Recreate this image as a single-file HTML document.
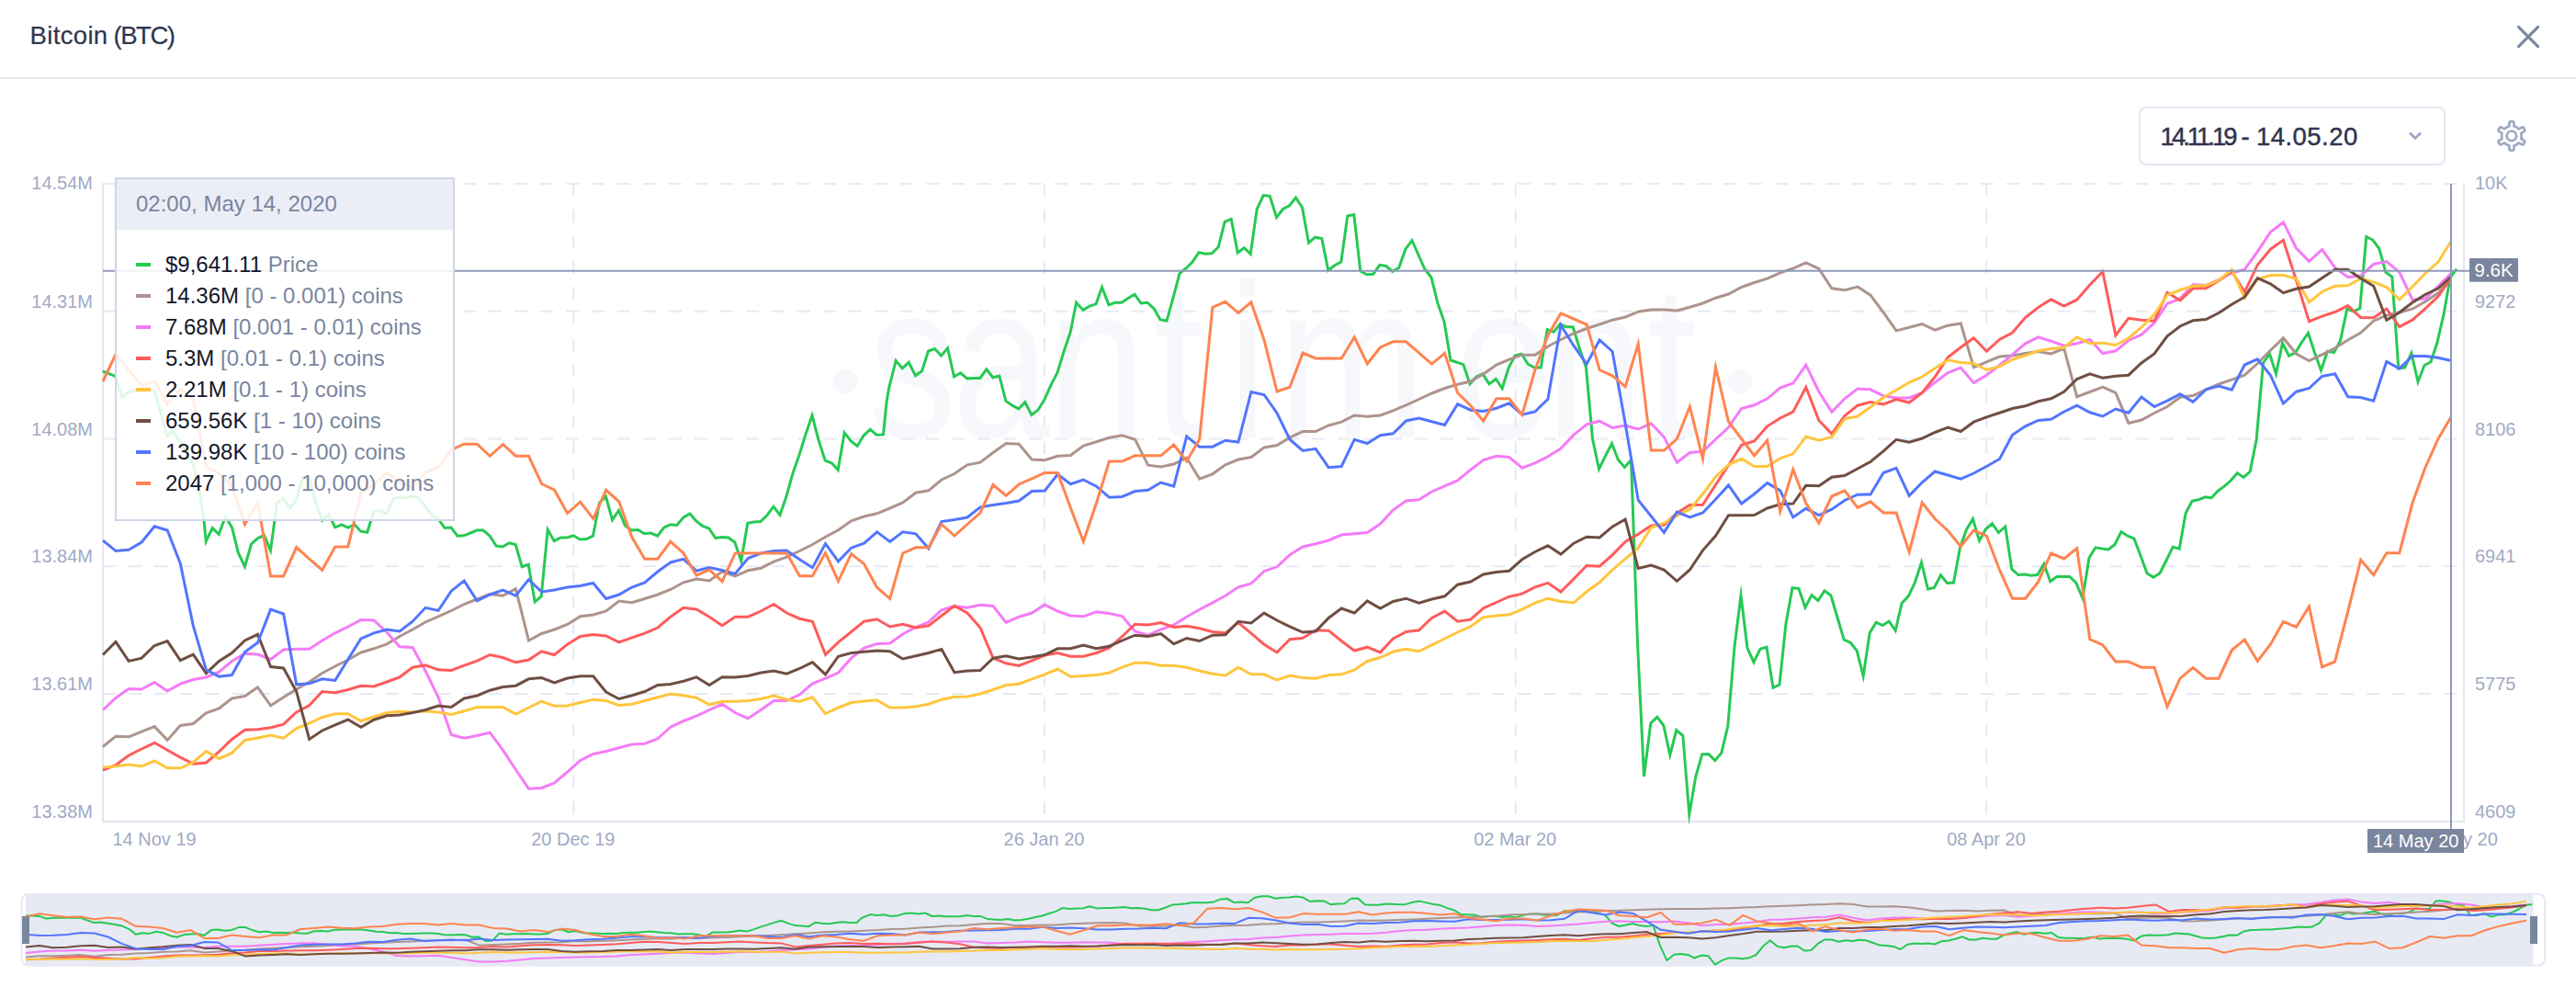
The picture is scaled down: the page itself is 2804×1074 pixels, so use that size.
<!DOCTYPE html>
<html><head><meta charset="utf-8"><title>Bitcoin (BTC)</title>
<style>
html,body{margin:0;padding:0;background:#fff;}
body{width:2804px;height:1074px;position:relative;overflow:hidden;font-family:"Liberation Sans",sans-serif;}
.title{position:absolute;left:32.6px;top:21.6px;font-size:27.6px;line-height:34px;color:#2f354d;letter-spacing:0.3px;white-space:pre;-webkit-text-stroke:0.2px #2f354d;}
.title u{text-decoration:none;letter-spacing:-1.5px;margin-left:-2px;}
.hr{position:absolute;left:0;top:84px;width:2804px;height:2px;background:#e7eaf3;}
.date{position:absolute;left:2328px;top:116px;width:330px;height:60px;border:2px solid #e4e7f2;border-radius:8px;background:#fff;}
.date span{position:absolute;left:21.6px;top:14px;font-size:27.5px;line-height:34px;color:#2f354d;letter-spacing:0.45px;word-spacing:-1.2px;white-space:pre;-webkit-text-stroke:0.45px #2f354d;}
.date span u{text-decoration:none;letter-spacing:-3.0px;}
svg{position:absolute;left:0;top:0;}
.tip{position:absolute;left:125px;top:193px;width:366px;height:370px;border:2px solid #d0d4e8;background:rgba(255,255,255,0.86);}
.tip .hd{position:absolute;left:0;top:0;width:366px;height:55px;background:#ebeef6;color:#7a859e;font-size:24px;line-height:53px;text-indent:21px;white-space:nowrap;}
.tip .row{position:absolute;left:21px;height:34px;line-height:34px;font-size:24px;white-space:nowrap;color:#7a859e;}
.tip .row i{display:inline-block;width:16px;height:4px;vertical-align:middle;margin-right:16px;position:relative;top:-2px;}
.tip .row b{font-weight:normal;color:#14172b;}
</style></head><body>
<div class="title">Bitcoin <u>(BTC)</u></div>
<div class="hr"></div>
<div class="date"><span><u>14.11.19</u> - 14.05.20</span></div>
<svg width="2804" height="1074" viewBox="0 0 2804 1074" font-family="Liberation Sans, sans-serif">
<!-- close -->
<path d="M2741.5 29.4 L2762.6 50.6 M2762.6 29.4 L2741.5 50.6" stroke="#7a859e" stroke-width="3" stroke-linecap="round" fill="none"/>
<!-- chevron -->
<path d="M2623.8 145.3 L2629 150.5 L2634.2 145.3" stroke="#9faac4" stroke-width="3" stroke-linecap="round" stroke-linejoin="round" fill="none"/>
<!-- gear -->
<g transform="translate(2733.9 147.9)" fill="none" stroke="#9faac4" stroke-width="2.8" stroke-linejoin="round">
<circle r="5.2"/>
<path id="gear" d="M0.00 -15.70 L0.27 -15.70 L0.55 -15.69 L0.82 -15.68 L1.10 -15.66 L1.37 -15.64 L1.64 -15.61 L1.91 -15.58 L2.16 -15.34 L2.34 -14.75 L2.46 -13.93 L2.53 -13.01 L2.57 -12.08 L2.60 -11.27 L2.66 -10.68 L2.80 -10.43 L2.98 -10.38 L3.16 -10.33 L3.34 -10.27 L3.52 -10.21 L3.69 -10.15 L3.87 -10.08 L4.05 -10.01 L4.22 -9.94 L4.39 -9.87 L4.56 -9.79 L4.73 -9.71 L4.90 -9.62 L5.07 -9.54 L5.24 -9.45 L5.40 -9.35 L5.56 -9.26 L5.72 -9.16 L5.88 -9.06 L6.04 -8.95 L6.19 -8.85 L6.35 -8.74 L6.50 -8.63 L6.65 -8.51 L6.80 -8.39 L6.94 -8.27 L7.09 -8.15 L7.23 -8.03 L7.37 -7.90 L7.50 -7.77 L7.64 -7.64 L7.92 -7.65 L8.46 -7.89 L9.18 -8.26 L10.00 -8.69 L10.84 -9.10 L11.61 -9.40 L12.21 -9.54 L12.54 -9.45 L12.70 -9.23 L12.86 -9.01 L13.02 -8.78 L13.17 -8.55 L13.31 -8.32 L13.46 -8.09 L13.60 -7.85 L13.73 -7.61 L13.86 -7.37 L13.99 -7.13 L14.11 -6.88 L14.23 -6.64 L14.34 -6.39 L14.45 -6.13 L14.36 -5.80 L13.94 -5.35 L13.30 -4.84 L12.53 -4.31 L11.75 -3.82 L11.06 -3.38 L10.58 -3.03 L10.43 -2.80 L10.48 -2.61 L10.52 -2.43 L10.56 -2.25 L10.60 -2.06 L10.64 -1.88 L10.67 -1.69 L10.69 -1.50 L10.72 -1.32 L10.74 -1.13 L10.76 -0.94 L10.77 -0.75 L10.79 -0.57 L10.79 -0.38 L10.80 -0.19 L10.80 -0.00 L10.80 0.19 L10.79 0.38 L10.79 0.57 L10.77 0.75 L10.76 0.94 L10.74 1.13 L10.72 1.32 L10.69 1.50 L10.67 1.69 L10.64 1.88 L10.60 2.06 L10.56 2.25 L10.52 2.43 L10.48 2.61 L10.43 2.80 L10.58 3.03 L11.06 3.38 L11.75 3.82 L12.53 4.31 L13.30 4.84 L13.94 5.35 L14.36 5.80 L14.45 6.13 L14.34 6.39 L14.23 6.64 L14.11 6.88 L13.99 7.13 L13.86 7.37 L13.73 7.61 L13.60 7.85 L13.46 8.09 L13.31 8.32 L13.17 8.55 L13.02 8.78 L12.86 9.01 L12.70 9.23 L12.54 9.45 L12.21 9.54 L11.61 9.40 L10.84 9.10 L10.00 8.69 L9.18 8.26 L8.46 7.89 L7.92 7.65 L7.64 7.64 L7.50 7.77 L7.37 7.90 L7.23 8.03 L7.09 8.15 L6.94 8.27 L6.80 8.39 L6.65 8.51 L6.50 8.63 L6.35 8.74 L6.19 8.85 L6.04 8.95 L5.88 9.06 L5.72 9.16 L5.56 9.26 L5.40 9.35 L5.24 9.45 L5.07 9.54 L4.90 9.62 L4.73 9.71 L4.56 9.79 L4.39 9.87 L4.22 9.94 L4.05 10.01 L3.87 10.08 L3.69 10.15 L3.52 10.21 L3.34 10.27 L3.16 10.33 L2.98 10.38 L2.80 10.43 L2.66 10.68 L2.60 11.27 L2.57 12.08 L2.53 13.01 L2.46 13.93 L2.34 14.75 L2.16 15.34 L1.91 15.58 L1.64 15.61 L1.37 15.64 L1.10 15.66 L0.82 15.68 L0.55 15.69 L0.27 15.70 L0.00 15.70 L-0.27 15.70 L-0.55 15.69 L-0.82 15.68 L-1.10 15.66 L-1.37 15.64 L-1.64 15.61 L-1.91 15.58 L-2.16 15.34 L-2.34 14.75 L-2.46 13.93 L-2.53 13.01 L-2.57 12.08 L-2.60 11.27 L-2.66 10.68 L-2.80 10.43 L-2.98 10.38 L-3.16 10.33 L-3.34 10.27 L-3.52 10.21 L-3.69 10.15 L-3.87 10.08 L-4.05 10.01 L-4.22 9.94 L-4.39 9.87 L-4.56 9.79 L-4.73 9.71 L-4.90 9.62 L-5.07 9.54 L-5.24 9.45 L-5.40 9.35 L-5.56 9.26 L-5.72 9.16 L-5.88 9.06 L-6.04 8.95 L-6.19 8.85 L-6.35 8.74 L-6.50 8.63 L-6.65 8.51 L-6.80 8.39 L-6.94 8.27 L-7.09 8.15 L-7.23 8.03 L-7.37 7.90 L-7.50 7.77 L-7.64 7.64 L-7.92 7.65 L-8.46 7.89 L-9.18 8.26 L-10.00 8.69 L-10.84 9.10 L-11.61 9.40 L-12.21 9.54 L-12.54 9.45 L-12.70 9.23 L-12.86 9.01 L-13.02 8.78 L-13.17 8.55 L-13.31 8.32 L-13.46 8.09 L-13.60 7.85 L-13.73 7.61 L-13.86 7.37 L-13.99 7.13 L-14.11 6.88 L-14.23 6.64 L-14.34 6.39 L-14.45 6.13 L-14.36 5.80 L-13.94 5.35 L-13.30 4.84 L-12.53 4.31 L-11.75 3.82 L-11.06 3.38 L-10.58 3.03 L-10.43 2.80 L-10.48 2.61 L-10.52 2.43 L-10.56 2.25 L-10.60 2.06 L-10.64 1.88 L-10.67 1.69 L-10.69 1.50 L-10.72 1.32 L-10.74 1.13 L-10.76 0.94 L-10.77 0.75 L-10.79 0.57 L-10.79 0.38 L-10.80 0.19 L-10.80 0.00 L-10.80 -0.19 L-10.79 -0.38 L-10.79 -0.57 L-10.77 -0.75 L-10.76 -0.94 L-10.74 -1.13 L-10.72 -1.32 L-10.69 -1.50 L-10.67 -1.69 L-10.64 -1.88 L-10.60 -2.06 L-10.56 -2.25 L-10.52 -2.43 L-10.48 -2.61 L-10.43 -2.80 L-10.58 -3.03 L-11.06 -3.38 L-11.75 -3.82 L-12.53 -4.31 L-13.30 -4.84 L-13.94 -5.35 L-14.36 -5.80 L-14.45 -6.13 L-14.34 -6.39 L-14.23 -6.64 L-14.11 -6.88 L-13.99 -7.13 L-13.86 -7.37 L-13.73 -7.61 L-13.60 -7.85 L-13.46 -8.09 L-13.31 -8.32 L-13.17 -8.55 L-13.02 -8.78 L-12.86 -9.01 L-12.70 -9.23 L-12.54 -9.45 L-12.21 -9.54 L-11.61 -9.40 L-10.84 -9.10 L-10.00 -8.69 L-9.18 -8.26 L-8.46 -7.89 L-7.92 -7.65 L-7.64 -7.64 L-7.50 -7.77 L-7.37 -7.90 L-7.23 -8.03 L-7.09 -8.15 L-6.94 -8.27 L-6.80 -8.39 L-6.65 -8.51 L-6.50 -8.63 L-6.35 -8.74 L-6.19 -8.85 L-6.04 -8.95 L-5.88 -9.06 L-5.72 -9.16 L-5.56 -9.26 L-5.40 -9.35 L-5.24 -9.45 L-5.07 -9.54 L-4.90 -9.62 L-4.73 -9.71 L-4.56 -9.79 L-4.39 -9.87 L-4.22 -9.94 L-4.05 -10.01 L-3.87 -10.08 L-3.69 -10.15 L-3.52 -10.21 L-3.34 -10.27 L-3.16 -10.33 L-2.98 -10.38 L-2.80 -10.43 L-2.66 -10.68 L-2.60 -11.27 L-2.57 -12.08 L-2.53 -13.01 L-2.46 -13.93 L-2.34 -14.75 L-2.16 -15.34 L-1.91 -15.58 L-1.64 -15.61 L-1.37 -15.64 L-1.10 -15.66 L-0.82 -15.68 L-0.55 -15.69 L-0.27 -15.70 Z"/>
</g>
<!-- watermark -->
<g fill="#f7f8fb">
<circle cx="920" cy="415" r="13.5"/><circle cx="1894" cy="415" r="13.5"/>
<g transform="scale(0.8 1)"><text x="1181.9 1295.6 1425.6 1570.0 1670.6 1740.0 1978.8 2103.8 2241.2" y="476" font-size="239">santiment</text></g>
</g>
<!-- axes -->
<path d="M112 199 V893.9 H2682 V199" stroke="#e3e6f0" stroke-width="2" fill="none"/>
<g stroke="#e7eaf3" stroke-width="2" stroke-dasharray="14 14"><line x1="112" y1="200.00" x2="2682" y2="200.00"/><line x1="112" y1="338.80" x2="2682" y2="338.80"/><line x1="112" y1="477.60" x2="2682" y2="477.60"/><line x1="112" y1="616.30" x2="2682" y2="616.30"/><line x1="112" y1="755.10" x2="2682" y2="755.10"/><line x1="624.20" y1="200" x2="624.20" y2="893"/><line x1="1136.90" y1="200" x2="1136.90" y2="893"/><line x1="1649.70" y1="200" x2="1649.70" y2="893"/><line x1="2162.40" y1="200" x2="2162.40" y2="893"/></g>
<g font-size="20" fill="#9faac4"><text x="101" y="205.7" text-anchor="end">14.54M</text><text x="2694" y="205.7">10K</text><text x="101" y="334.9" text-anchor="end">14.31M</text><text x="2694" y="334.9">9272</text><text x="101" y="473.7" text-anchor="end">14.08M</text><text x="2694" y="473.7">8106</text><text x="101" y="612.4" text-anchor="end">13.84M</text><text x="2694" y="612.4">6941</text><text x="101" y="751.2" text-anchor="end">13.61M</text><text x="2694" y="751.2">5775</text><text x="101" y="889.9" text-anchor="end">13.38M</text><text x="2694" y="889.9">4609</text><text x="122.5" y="920" text-anchor="start">14 Nov 19</text><text x="623.8" y="920" text-anchor="middle">20 Dec 19</text><text x="1136.5" y="920" text-anchor="middle">26 Jan 20</text><text x="1649.2" y="920" text-anchor="middle">02 Mar 20</text><text x="2162.0" y="920" text-anchor="middle">08 Apr 20</text><text x="2718.8" y="920" text-anchor="end">14 May 20</text></g>
<!-- series -->
<g fill="none" stroke-width="3" stroke-linejoin="miter" stroke-miterlimit="10"><path d="M111.9 404.0 L125.5 409.4 L133.0 432.2 L140.4 426.4 L147.9 424.9 L161.7 423.6 L168.1 425.3 L181.9 474.6 L188.3 469.3 L195.7 480.6 L203.2 492.3 L210.6 506.2 L218.1 540.2 L222.3 568.9 L224.2 589.1 L231.2 574.6 L238.2 581.3 L245.5 562.0 L252.5 574.0 L259.5 602.0 L266.5 616.5 L273.5 592.0 L280.5 585.8 L287.5 582.3 L294.5 599.1 L301.5 547.0 L308.5 542.3 L315.5 552.7 L322.5 544.5 L329.5 519.6 L336.5 519.6 L343.8 547.0 L350.8 566.3 L357.8 560.0 L364.8 573.8 L371.8 570.8 L378.8 574.0 L385.8 570.8 L392.8 578.2 L399.8 579.3 L406.8 556.5 L413.8 555.8 L420.8 559.2 L427.8 543.2 L435.0 540.8 L442.0 542.0 L449.0 539.5 L456.0 542.0 L463.0 550.8 L470.0 560.8 L477.0 564.5 L484.0 574.5 L491.0 574.0 L498.0 583.2 L505.0 582.8 L512.0 580.0 L519.0 577.0 L526.0 577.0 L533.2 583.2 L540.2 594.0 L547.2 595.0 L554.2 590.8 L561.2 592.5 L568.2 616.7 L575.2 614.3 L582.2 654.9 L589.2 649.0 L596.2 576.4 L603.2 588.7 L610.2 585.0 L617.2 585.0 L624.2 582.8 L631.5 587.0 L638.5 586.5 L645.5 583.2 L652.5 547.0 L659.5 540.3 L666.5 565.7 L673.5 555.5 L680.5 572.0 L687.5 577.0 L694.5 576.5 L701.5 580.8 L708.5 580.0 L715.8 583.1 L722.8 574.0 L729.8 570.8 L736.8 571.5 L743.8 563.2 L750.8 558.9 L757.8 566.8 L764.8 572.5 L771.8 575.0 L778.8 585.5 L785.8 584.5 L792.8 585.0 L799.8 590.0 L806.8 610.5 L813.8 569.3 L820.8 568.0 L827.8 567.5 L834.8 560.8 L842.0 551.3 L849.0 560.3 L856.0 540.0 L863.0 515.0 L870.0 495.0 L877.0 472.5 L884.0 452.0 L891.0 478.8 L898.2 501.2 L905.2 503.8 L912.2 511.4 L919.2 470.9 L926.2 480.0 L933.2 485.4 L940.2 473.8 L947.2 467.2 L954.2 473.2 L961.5 472.9 L965.2 436.2 L967.8 421.2 L975.2 392.4 L982.2 400.9 L989.2 394.3 L996.5 408.8 L1003.5 403.8 L1010.5 382.0 L1017.5 379.6 L1024.5 387.1 L1031.5 378.7 L1038.5 410.0 L1045.5 405.8 L1052.8 412.0 L1059.8 411.5 L1066.8 411.5 L1073.8 401.8 L1080.8 410.7 L1087.8 409.0 L1094.8 436.2 L1101.8 441.2 L1108.8 444.9 L1115.8 437.6 L1122.8 451.4 L1129.8 446.2 L1136.8 435.0 L1144.0 418.8 L1151.0 405.5 L1158.0 382.5 L1165.2 361.2 L1171.5 329.3 L1179.0 337.4 L1186.0 333.2 L1193.0 330.8 L1199.5 312.6 L1207.0 331.8 L1214.0 329.2 L1221.0 329.2 L1228.0 324.5 L1235.0 320.2 L1242.0 330.0 L1249.0 329.2 L1256.0 335.8 L1263.0 348.0 L1270.0 349.1 L1277.0 323.8 L1284.0 297.5 L1291.0 292.0 L1298.0 285.0 L1305.0 274.6 L1312.0 276.2 L1319.0 275.8 L1326.2 268.8 L1333.2 241.3 L1340.2 238.4 L1347.2 275.0 L1354.2 269.7 L1361.2 276.4 L1368.2 227.5 L1375.2 212.6 L1382.2 213.3 L1389.5 236.5 L1396.5 227.5 L1403.5 223.8 L1410.5 215.1 L1417.5 225.8 L1424.5 264.2 L1431.5 258.2 L1438.8 259.6 L1445.8 294.3 L1452.8 288.8 L1459.8 285.0 L1466.8 235.1 L1473.8 233.5 L1480.8 295.0 L1487.8 298.8 L1494.8 298.2 L1501.8 288.3 L1508.8 289.5 L1515.8 295.4 L1522.8 291.2 L1529.8 271.2 L1537.0 261.6 L1544.0 277.5 L1551.0 293.0 L1558.0 302.0 L1565.0 330.0 L1572.0 350.0 L1579.0 392.0 L1586.0 394.2 L1593.0 396.8 L1600.0 417.9 L1607.0 410.0 L1614.0 406.9 L1621.0 417.9 L1628.2 412.3 L1635.2 422.5 L1642.2 400.0 L1649.2 386.8 L1656.2 385.1 L1663.2 396.2 L1670.2 400.0 L1677.2 399.9 L1684.2 358.6 L1691.2 361.2 L1698.2 352.6 L1705.2 355.8 L1712.2 355.8 L1719.2 378.8 L1726.5 400.0 L1733.5 477.5 L1740.5 510.4 L1747.5 496.2 L1754.5 482.6 L1761.5 500.5 L1768.5 508.4 L1775.5 500.4 L1782.5 700.0 L1789.5 845.0 L1796.8 787.0 L1803.8 780.3 L1810.8 789.2 L1817.8 821.5 L1824.8 794.5 L1831.8 800.5 L1838.8 886.0 L1845.8 845.0 L1852.8 820.8 L1859.8 820.5 L1866.8 827.6 L1873.8 819.2 L1880.8 790.0 L1888.0 703.8 L1895.0 647.9 L1902.0 705.0 L1909.0 720.7 L1916.0 706.2 L1923.0 704.1 L1930.0 748.3 L1937.0 745.0 L1944.0 678.8 L1951.0 639.7 L1958.0 640.5 L1965.0 661.0 L1972.0 647.5 L1979.0 653.4 L1986.0 642.8 L1993.0 648.0 L2000.2 672.5 L2007.2 696.2 L2014.2 699.2 L2021.2 708.0 L2028.2 735.6 L2035.2 688.8 L2042.2 677.2 L2049.2 680.5 L2056.2 676.0 L2063.2 686.1 L2070.2 656.2 L2077.2 648.8 L2084.2 634.5 L2091.5 612.0 L2098.5 641.0 L2105.5 639.5 L2112.5 625.7 L2119.5 634.5 L2126.5 634.1 L2133.5 596.2 L2140.5 576.2 L2147.5 564.7 L2154.5 588.4 L2161.5 575.8 L2168.5 569.8 L2175.5 579.6 L2182.8 573.0 L2189.8 619.2 L2196.8 625.5 L2203.8 625.0 L2210.8 626.2 L2217.8 625.5 L2224.8 613.8 L2231.8 632.7 L2238.8 627.5 L2245.8 627.5 L2252.8 627.5 L2259.8 634.2 L2267.0 651.1 L2274.0 607.0 L2281.0 595.8 L2288.0 597.0 L2295.0 598.0 L2302.0 592.5 L2309.0 578.6 L2316.0 583.2 L2323.0 586.2 L2330.0 604.5 L2337.0 623.8 L2344.0 628.2 L2351.0 623.8 L2358.0 610.0 L2365.2 595.2 L2372.2 597.2 L2379.2 558.2 L2386.2 545.0 L2393.2 543.8 L2400.2 540.8 L2407.2 541.7 L2414.2 534.2 L2421.2 529.2 L2428.2 523.0 L2435.2 514.7 L2442.2 519.4 L2449.2 513.2 L2456.2 478.0 L2463.5 395.0 L2470.5 384.9 L2477.5 406.9 L2484.5 373.3 L2491.5 387.2 L2498.5 383.8 L2505.5 372.5 L2512.5 362.4 L2519.5 383.8 L2526.5 403.0 L2533.5 382.2 L2540.5 383.6 L2547.5 370.8 L2554.8 336.1 L2561.8 338.8 L2568.8 335.7 L2575.8 257.6 L2582.8 261.2 L2589.8 270.5 L2596.8 296.2 L2603.8 301.2 L2610.8 401.0 L2617.8 400.0 L2624.8 384.2 L2632.0 415.5 L2639.0 397.5 L2646.0 393.8 L2653.0 372.5 L2660.0 342.0 L2667.0 302.5 L2674.0 292.5" stroke="#26c953"/>
<path d="M112.0 812.5 L126.0 801.2 L140.1 801.8 L154.1 796.2 L168.2 790.6 L182.2 805.4 L196.3 789.5 L210.3 787.5 L224.4 775.8 L238.4 770.8 L252.4 760.0 L266.5 757.5 L280.5 747.8 L294.6 767.8 L308.6 758.8 L322.7 750.0 L336.7 742.0 L350.7 732.5 L364.8 725.0 L378.8 718.0 L392.9 710.0 L406.9 705.8 L421.0 700.8 L435.0 692.5 L449.1 685.0 L463.1 677.0 L477.1 670.8 L491.2 664.5 L505.2 657.5 L519.3 652.0 L533.3 646.5 L547.4 648.2 L561.4 640.7 L575.5 697.0 L589.5 689.5 L603.5 685.0 L617.6 679.5 L631.6 670.8 L645.7 669.0 L659.7 665.0 L673.8 654.0 L687.8 655.8 L701.8 651.5 L715.9 647.0 L729.9 641.5 L744.0 633.8 L758.0 630.0 L772.1 632.0 L786.1 622.0 L800.2 627.0 L814.2 620.8 L828.2 618.2 L842.3 611.2 L856.3 606.2 L870.4 599.5 L884.4 592.5 L898.5 584.2 L912.5 576.8 L926.6 566.8 L940.6 562.0 L954.6 558.8 L968.7 553.0 L982.7 547.0 L996.8 536.2 L1010.8 533.8 L1024.9 522.0 L1038.9 515.5 L1052.9 505.8 L1067.0 503.2 L1081.0 492.5 L1095.1 482.5 L1109.1 483.2 L1123.2 500.0 L1137.2 500.8 L1151.3 496.2 L1165.3 495.5 L1179.3 485.0 L1193.4 480.8 L1207.4 476.2 L1221.5 473.8 L1235.5 478.2 L1249.6 506.2 L1263.6 508.0 L1277.7 505.0 L1291.7 498.2 L1305.7 521.1 L1319.8 515.8 L1333.8 505.8 L1347.9 500.0 L1361.9 497.5 L1376.0 487.0 L1390.0 484.5 L1404.0 476.2 L1418.1 469.5 L1432.1 469.5 L1446.2 463.0 L1460.2 459.2 L1474.3 452.0 L1488.3 453.2 L1502.4 452.0 L1516.4 446.8 L1530.4 440.8 L1544.5 434.5 L1558.5 428.0 L1572.6 422.5 L1586.6 418.2 L1600.7 415.0 L1614.7 407.0 L1628.8 397.0 L1642.8 391.2 L1656.8 386.2 L1670.9 386.2 L1684.9 377.0 L1699.0 369.5 L1713.0 363.0 L1727.1 357.5 L1741.1 353.0 L1755.1 348.2 L1769.2 345.0 L1783.2 339.2 L1797.3 337.0 L1811.3 337.0 L1825.4 338.0 L1839.4 334.2 L1853.5 330.0 L1867.5 324.2 L1881.5 320.0 L1895.6 312.5 L1909.6 307.5 L1923.7 303.2 L1937.7 296.8 L1951.8 292.0 L1965.8 285.8 L1979.9 292.5 L1993.9 313.8 L2007.9 315.8 L2022.0 312.0 L2036.0 321.2 L2050.1 340.0 L2064.1 359.9 L2078.2 356.2 L2092.2 352.5 L2106.2 359.2 L2120.3 354.2 L2134.3 351.9 L2148.4 399.7 L2162.4 393.8 L2176.5 388.0 L2190.5 387.0 L2204.6 384.5 L2218.6 382.5 L2232.6 385.0 L2246.7 379.1 L2260.7 431.7 L2274.8 426.5 L2288.8 421.2 L2302.9 427.5 L2316.9 460.4 L2331.0 457.0 L2345.0 449.5 L2359.0 442.5 L2373.1 432.2 L2387.1 430.5 L2401.2 423.8 L2415.2 418.0 L2429.3 413.2 L2443.3 408.2 L2457.3 395.5 L2471.4 381.2 L2485.4 367.8 L2499.5 385.0 L2513.5 392.5 L2527.6 385.8 L2541.6 378.8 L2555.7 370.0 L2569.7 362.0 L2583.7 349.2 L2597.8 343.2 L2611.8 340.0 L2625.9 336.2 L2639.9 328.2 L2654.0 318.8 L2668.0 303.8" stroke="#ac948c"/>
<path d="M112.0 772.5 L126.0 759.5 L140.1 749.5 L154.1 750.0 L168.2 742.5 L182.2 752.0 L196.3 744.2 L210.3 739.5 L224.4 737.0 L238.4 731.2 L252.4 719.5 L266.5 711.2 L280.5 712.0 L294.6 717.5 L308.6 707.0 L322.7 706.2 L336.7 706.2 L350.7 697.0 L364.8 688.8 L378.8 682.0 L392.9 674.5 L406.9 675.0 L421.0 688.0 L435.0 703.8 L449.1 704.5 L463.1 730.0 L477.1 758.8 L491.2 799.5 L505.2 803.2 L519.3 800.5 L533.3 797.1 L547.4 816.2 L561.4 837.5 L575.5 858.2 L589.5 857.5 L603.5 852.0 L617.6 840.0 L631.6 827.5 L645.7 820.5 L659.7 817.5 L673.8 813.8 L687.8 810.0 L701.8 809.2 L715.9 803.8 L729.9 791.2 L744.0 784.5 L758.0 779.2 L772.1 772.5 L786.1 766.3 L800.2 775.5 L814.2 781.7 L828.2 772.5 L842.3 762.5 L856.3 762.5 L870.4 755.8 L884.4 743.8 L898.5 738.2 L912.5 732.0 L926.6 716.2 L940.6 705.0 L954.6 700.5 L968.7 700.0 L982.7 690.0 L996.8 682.5 L1010.8 676.8 L1024.9 663.8 L1038.9 659.5 L1052.9 661.2 L1067.0 658.2 L1081.0 659.5 L1095.1 677.4 L1109.1 671.2 L1123.2 667.0 L1137.2 658.0 L1151.3 665.0 L1165.3 670.0 L1179.3 670.8 L1193.4 665.8 L1207.4 667.5 L1221.5 670.5 L1235.5 687.0 L1249.6 691.2 L1263.6 685.0 L1277.7 680.0 L1291.7 671.2 L1305.7 663.2 L1319.8 655.8 L1333.8 648.2 L1347.9 638.8 L1361.9 635.0 L1376.0 621.5 L1390.0 616.8 L1404.0 603.8 L1418.1 595.0 L1432.1 591.8 L1446.2 588.0 L1460.2 582.0 L1474.3 580.8 L1488.3 579.5 L1502.4 570.0 L1516.4 555.0 L1530.4 545.0 L1544.5 543.8 L1558.5 535.0 L1572.6 528.8 L1586.6 523.0 L1600.7 511.2 L1614.7 500.5 L1628.8 496.2 L1642.8 497.5 L1656.8 509.2 L1670.9 503.8 L1684.9 496.8 L1699.0 488.0 L1713.0 473.2 L1727.1 461.8 L1741.1 458.2 L1755.1 465.5 L1769.2 463.0 L1783.2 467.0 L1797.3 460.8 L1811.3 475.5 L1825.4 503.3 L1839.4 492.5 L1853.5 491.2 L1867.5 478.0 L1881.5 465.0 L1895.6 444.5 L1909.6 440.8 L1923.7 433.8 L1937.7 422.0 L1951.8 417.0 L1965.8 397.1 L1979.9 426.2 L1993.9 448.3 L2007.9 433.8 L2022.0 423.0 L2036.0 423.8 L2050.1 430.8 L2064.1 433.0 L2078.2 433.0 L2092.2 427.5 L2106.2 416.2 L2120.3 405.5 L2134.3 400.1 L2148.4 416.6 L2162.4 408.2 L2176.5 397.5 L2190.5 385.8 L2204.6 373.8 L2218.6 366.8 L2232.6 371.2 L2246.7 376.2 L2260.7 373.8 L2274.8 369.5 L2288.8 384.5 L2302.9 381.8 L2316.9 370.5 L2331.0 364.2 L2345.0 351.2 L2359.0 330.5 L2373.1 325.0 L2387.1 309.5 L2401.2 310.5 L2415.2 304.5 L2429.3 297.0 L2443.3 293.2 L2457.3 273.8 L2471.4 252.5 L2485.4 241.7 L2499.5 270.0 L2513.5 284.3 L2527.6 271.6 L2541.6 291.2 L2555.7 301.8 L2569.7 300.0 L2583.7 287.5 L2597.8 284.5 L2611.8 296.2 L2625.9 326.2 L2639.9 325.0 L2654.0 311.2 L2668.0 297.5" stroke="#f47bf7"/>
<path d="M112.0 838.0 L126.0 832.5 L140.1 822.0 L154.1 815.0 L168.2 808.3 L182.2 816.2 L196.3 824.2 L210.3 831.2 L224.4 830.0 L238.4 818.0 L252.4 804.5 L266.5 794.2 L280.5 793.8 L294.6 791.8 L308.6 788.2 L322.7 775.0 L336.7 767.5 L350.7 752.5 L364.8 753.8 L378.8 750.5 L392.9 746.2 L406.9 747.0 L421.0 742.0 L435.0 736.8 L449.1 726.2 L463.1 723.8 L477.1 728.8 L491.2 729.5 L505.2 724.2 L519.3 719.2 L533.3 712.5 L547.4 715.5 L561.4 720.8 L575.5 718.0 L589.5 708.8 L603.5 712.5 L617.6 701.2 L631.6 692.5 L645.7 690.5 L659.7 692.0 L673.8 698.8 L687.8 693.8 L701.8 689.2 L715.9 683.0 L729.9 671.2 L744.0 661.2 L758.0 663.0 L772.1 671.2 L786.1 680.7 L800.2 671.2 L814.2 671.2 L828.2 665.0 L842.3 657.5 L856.3 667.0 L870.4 673.2 L884.4 676.3 L898.5 712.3 L912.5 698.8 L926.6 687.5 L940.6 676.2 L954.6 673.8 L968.7 682.0 L982.7 679.2 L996.8 683.0 L1010.8 680.8 L1024.9 670.0 L1038.9 659.3 L1052.9 667.0 L1067.0 683.0 L1081.0 716.2 L1095.1 721.8 L1109.1 724.5 L1123.2 718.8 L1137.2 713.0 L1151.3 710.5 L1165.3 714.2 L1179.3 714.2 L1193.4 710.5 L1207.4 705.0 L1221.5 692.5 L1235.5 679.2 L1249.6 680.0 L1263.6 677.5 L1277.7 682.5 L1291.7 681.2 L1305.7 683.8 L1319.8 687.5 L1333.8 688.8 L1347.9 677.6 L1361.9 689.2 L1376.0 701.2 L1390.0 709.9 L1404.0 695.8 L1418.1 694.2 L1432.1 685.8 L1446.2 686.2 L1460.2 697.5 L1474.3 708.0 L1488.3 704.2 L1502.4 709.9 L1516.4 695.0 L1530.4 687.5 L1544.5 685.8 L1558.5 672.5 L1572.6 665.1 L1586.6 676.2 L1600.7 674.2 L1614.7 661.8 L1628.8 655.5 L1642.8 649.2 L1656.8 646.2 L1670.9 638.8 L1684.9 634.3 L1699.0 644.1 L1713.0 630.0 L1727.1 615.5 L1741.1 616.2 L1755.1 603.8 L1769.2 589.5 L1783.2 581.2 L1797.3 572.0 L1811.3 571.2 L1825.4 558.2 L1839.4 549.5 L1853.5 549.2 L1867.5 527.5 L1881.5 506.2 L1895.6 484.2 L1909.6 480.0 L1923.7 463.8 L1937.7 455.0 L1951.8 448.2 L1965.8 421.4 L1979.9 457.5 L1993.9 472.1 L2007.9 452.5 L2022.0 441.2 L2036.0 437.5 L2050.1 440.0 L2064.1 434.5 L2078.2 438.0 L2092.2 427.5 L2106.2 410.0 L2120.3 388.8 L2134.3 378.0 L2148.4 367.7 L2162.4 382.2 L2176.5 369.5 L2190.5 362.0 L2204.6 345.5 L2218.6 334.5 L2232.6 325.8 L2246.7 333.0 L2260.7 326.2 L2274.8 310.0 L2288.8 295.5 L2302.9 364.9 L2316.9 346.3 L2331.0 348.2 L2345.0 349.2 L2359.0 318.3 L2373.1 326.9 L2387.1 313.8 L2401.2 313.8 L2415.2 305.5 L2429.3 295.3 L2443.3 317.8 L2457.3 288.2 L2471.4 271.2 L2485.4 261.3 L2499.5 305.0 L2513.5 349.7 L2527.6 344.2 L2541.6 339.5 L2555.7 332.6 L2569.7 345.5 L2583.7 345.8 L2597.8 336.0 L2611.8 355.6 L2625.9 348.2 L2639.9 335.8 L2654.0 322.5 L2668.0 302.5" stroke="#ff5b5b"/>
<path d="M112.0 835.0 L126.0 833.8 L140.1 832.0 L154.1 833.8 L168.2 828.0 L182.2 835.8 L196.3 835.8 L210.3 829.5 L224.4 817.6 L238.4 825.5 L252.4 819.5 L266.5 805.5 L280.5 803.0 L294.6 800.0 L308.6 803.2 L322.7 792.5 L336.7 787.0 L350.7 780.5 L364.8 776.8 L378.8 776.8 L392.9 784.5 L406.9 780.0 L421.0 775.5 L435.0 774.2 L449.1 775.0 L463.1 773.8 L477.1 775.0 L491.2 777.5 L505.2 773.8 L519.3 769.5 L533.3 769.5 L547.4 769.5 L561.4 777.0 L575.5 770.0 L589.5 763.2 L603.5 768.2 L617.6 768.0 L631.6 764.5 L645.7 761.2 L659.7 762.5 L673.8 767.5 L687.8 766.2 L701.8 762.5 L715.9 758.8 L729.9 755.0 L744.0 756.8 L758.0 759.2 L772.1 766.8 L786.1 763.2 L800.2 763.2 L814.2 762.5 L828.2 760.5 L842.3 757.0 L856.3 761.2 L870.4 763.2 L884.4 758.8 L898.5 776.6 L912.5 770.0 L926.6 764.5 L940.6 763.0 L954.6 761.8 L968.7 770.0 L982.7 770.0 L996.8 768.8 L1010.8 766.2 L1024.9 761.2 L1038.9 758.2 L1052.9 758.0 L1067.0 755.0 L1081.0 750.5 L1095.1 745.5 L1109.1 744.2 L1123.2 738.8 L1137.2 733.8 L1151.3 728.0 L1165.3 736.2 L1179.3 735.5 L1193.4 734.5 L1207.4 732.0 L1221.5 726.2 L1235.5 721.2 L1249.6 721.2 L1263.6 724.2 L1277.7 724.2 L1291.7 726.2 L1305.7 730.0 L1319.8 733.2 L1333.8 735.0 L1347.9 726.3 L1361.9 733.8 L1376.0 733.8 L1390.0 740.0 L1404.0 735.0 L1418.1 737.5 L1432.1 738.2 L1446.2 734.5 L1460.2 733.8 L1474.3 728.8 L1488.3 719.5 L1502.4 715.5 L1516.4 709.2 L1530.4 706.2 L1544.5 708.8 L1558.5 701.8 L1572.6 695.0 L1586.6 688.0 L1600.7 681.8 L1614.7 671.8 L1628.8 670.0 L1642.8 668.8 L1656.8 663.2 L1670.9 656.2 L1684.9 651.2 L1699.0 654.5 L1713.0 655.8 L1727.1 643.8 L1741.1 633.8 L1755.1 620.0 L1769.2 608.2 L1783.2 596.2 L1797.3 574.2 L1811.3 569.2 L1825.4 561.2 L1839.4 554.2 L1853.5 537.5 L1867.5 518.8 L1881.5 505.8 L1895.6 499.3 L1909.6 507.5 L1923.7 507.5 L1937.7 498.8 L1951.8 493.8 L1965.8 475.1 L1979.9 479.2 L1993.9 475.5 L2007.9 455.8 L2022.0 453.0 L2036.0 443.0 L2050.1 432.5 L2064.1 424.5 L2078.2 416.2 L2092.2 410.0 L2106.2 400.8 L2120.3 391.8 L2134.3 394.5 L2148.4 395.5 L2162.4 402.5 L2176.5 398.8 L2190.5 391.2 L2204.6 386.8 L2218.6 381.8 L2232.6 379.5 L2246.7 378.2 L2260.7 366.8 L2274.8 373.8 L2288.8 373.2 L2302.9 375.5 L2316.9 368.0 L2331.0 356.2 L2345.0 342.0 L2359.0 321.2 L2373.1 315.5 L2387.1 311.2 L2401.2 310.8 L2415.2 305.0 L2429.3 293.5 L2443.3 324.1 L2457.3 303.8 L2471.4 299.5 L2485.4 299.5 L2499.5 303.2 L2513.5 328.8 L2527.6 317.5 L2541.6 311.2 L2555.7 310.8 L2569.7 303.0 L2583.7 306.8 L2597.8 312.5 L2611.8 326.0 L2625.9 312.0 L2639.9 297.5 L2654.0 285.0 L2668.0 262.5" stroke="#ffc53d"/>
<path d="M112.0 712.5 L126.0 698.4 L140.1 719.4 L154.1 716.2 L168.2 702.5 L182.2 697.6 L196.3 718.6 L210.3 712.2 L224.4 732.6 L238.4 719.5 L252.4 710.5 L266.5 697.0 L280.5 690.3 L294.6 725.5 L308.6 727.0 L322.7 752.5 L336.7 804.4 L350.7 795.0 L364.8 788.8 L378.8 783.0 L392.9 791.2 L406.9 783.2 L421.0 778.8 L435.0 778.0 L449.1 775.5 L463.1 772.5 L477.1 768.0 L491.2 769.5 L505.2 760.0 L519.3 757.0 L533.3 751.2 L547.4 747.5 L561.4 746.2 L575.5 738.8 L589.5 737.5 L603.5 743.0 L617.6 738.0 L631.6 735.8 L645.7 735.8 L659.7 753.0 L673.8 760.5 L687.8 756.8 L701.8 752.5 L715.9 745.5 L729.9 744.5 L744.0 741.2 L758.0 736.8 L772.1 745.5 L786.1 736.8 L800.2 737.0 L814.2 735.5 L828.2 732.0 L842.3 730.0 L856.3 733.2 L870.4 727.5 L884.4 720.6 L898.5 733.9 L912.5 714.2 L926.6 710.5 L940.6 709.2 L954.6 708.0 L968.7 708.8 L982.7 717.0 L996.8 713.8 L1010.8 710.5 L1024.9 706.4 L1038.9 731.7 L1052.9 730.0 L1067.0 729.5 L1081.0 716.2 L1095.1 713.8 L1109.1 717.0 L1123.2 715.0 L1137.2 712.5 L1151.3 705.8 L1165.3 705.8 L1179.3 702.0 L1193.4 705.8 L1207.4 703.2 L1221.5 697.0 L1235.5 691.2 L1249.6 692.5 L1263.6 689.5 L1277.7 700.7 L1291.7 694.5 L1305.7 697.5 L1319.8 691.2 L1333.8 690.8 L1347.9 676.3 L1361.9 678.0 L1376.0 667.1 L1390.0 675.0 L1404.0 681.8 L1418.1 688.0 L1432.1 687.0 L1446.2 672.5 L1460.2 662.0 L1474.3 667.0 L1488.3 653.9 L1502.4 662.0 L1516.4 654.5 L1530.4 651.2 L1544.5 656.2 L1558.5 652.0 L1572.6 648.8 L1586.6 636.2 L1600.7 633.0 L1614.7 625.0 L1628.8 622.5 L1642.8 621.2 L1656.8 608.8 L1670.9 600.5 L1684.9 593.8 L1699.0 603.1 L1713.0 591.2 L1727.1 584.2 L1741.1 585.0 L1755.1 573.2 L1769.2 565.0 L1783.2 618.5 L1797.3 615.0 L1811.3 620.0 L1825.4 632.3 L1839.4 620.0 L1853.5 598.8 L1867.5 583.0 L1881.5 560.8 L1895.6 560.8 L1909.6 560.5 L1923.7 553.0 L1937.7 548.8 L1951.8 548.0 L1965.8 528.3 L1979.9 528.8 L1993.9 519.2 L2007.9 517.5 L2022.0 510.0 L2036.0 502.5 L2050.1 490.8 L2064.1 478.3 L2078.2 481.2 L2092.2 477.0 L2106.2 470.5 L2120.3 465.0 L2134.3 469.5 L2148.4 459.2 L2162.4 453.8 L2176.5 449.2 L2190.5 444.5 L2204.6 441.8 L2218.6 436.8 L2232.6 433.8 L2246.7 426.2 L2260.7 412.5 L2274.8 406.8 L2288.8 411.2 L2302.9 409.2 L2316.9 408.2 L2331.0 395.0 L2345.0 385.0 L2359.0 365.8 L2373.1 355.0 L2387.1 348.8 L2401.2 347.5 L2415.2 340.5 L2429.3 331.2 L2443.3 323.2 L2457.3 302.7 L2471.4 308.8 L2485.4 318.7 L2499.5 314.2 L2513.5 312.0 L2527.6 302.5 L2541.6 293.2 L2555.7 293.2 L2569.7 303.0 L2583.7 311.2 L2597.8 348.4 L2611.8 340.0 L2625.9 329.2 L2639.9 320.5 L2654.0 313.8 L2668.0 301.2" stroke="#6f4e42"/>
<path d="M112.0 588.2 L126.0 599.5 L140.1 598.2 L154.1 590.0 L168.2 572.8 L182.2 577.0 L196.3 613.2 L210.3 680.8 L224.4 728.8 L238.4 736.2 L252.4 734.5 L266.5 709.5 L280.5 699.2 L294.6 663.2 L308.6 668.0 L322.7 744.8 L336.7 743.8 L350.7 738.8 L364.8 740.4 L378.8 717.5 L392.9 695.0 L406.9 688.8 L421.0 685.0 L435.0 687.0 L449.1 676.2 L463.1 661.3 L477.1 664.4 L491.2 643.2 L505.2 631.9 L519.3 653.8 L533.3 647.0 L547.4 642.0 L561.4 648.1 L575.5 630.6 L589.5 644.0 L603.5 642.0 L617.6 639.0 L631.6 637.5 L645.7 634.5 L659.7 651.4 L673.8 647.0 L687.8 639.0 L701.8 634.0 L715.9 622.0 L729.9 612.0 L744.0 608.3 L758.0 621.2 L772.1 617.5 L786.1 620.5 L800.2 624.4 L814.2 607.5 L828.2 602.0 L842.3 599.5 L856.3 599.0 L870.4 608.8 L884.4 617.7 L898.5 591.5 L912.5 610.8 L926.6 596.2 L940.6 591.2 L954.6 578.9 L968.7 589.4 L982.7 578.8 L996.8 580.8 L1010.8 596.8 L1024.9 567.5 L1038.9 565.5 L1052.9 563.0 L1067.0 551.8 L1081.0 549.5 L1095.1 547.5 L1109.1 545.0 L1123.2 534.5 L1137.2 534.0 L1151.3 516.0 L1165.3 526.7 L1179.3 522.0 L1193.4 529.2 L1207.4 541.2 L1221.5 540.5 L1235.5 534.5 L1249.6 533.2 L1263.6 525.0 L1277.7 529.2 L1291.7 474.9 L1305.7 486.2 L1319.8 486.2 L1333.8 479.2 L1347.9 481.1 L1361.9 426.5 L1376.0 429.5 L1390.0 449.5 L1404.0 478.2 L1418.1 490.5 L1432.1 488.3 L1446.2 508.7 L1460.2 507.5 L1474.3 478.2 L1488.3 482.5 L1502.4 473.8 L1516.4 471.8 L1530.4 458.0 L1544.5 455.0 L1558.5 458.8 L1572.6 462.4 L1586.6 439.7 L1600.7 446.2 L1614.7 447.5 L1628.8 444.2 L1642.8 438.8 L1656.8 451.2 L1670.9 448.0 L1684.9 434.2 L1699.0 353.8 L1713.0 376.2 L1727.1 396.2 L1741.1 370.0 L1755.1 382.5 L1769.2 461.2 L1783.2 544.2 L1797.3 561.8 L1811.3 579.4 L1825.4 557.2 L1839.4 563.0 L1853.5 558.0 L1867.5 543.2 L1881.5 528.0 L1895.6 548.0 L1909.6 537.5 L1923.7 525.6 L1937.7 533.8 L1951.8 562.9 L1965.8 553.3 L1979.9 560.5 L1993.9 554.2 L2007.9 544.5 L2022.0 538.2 L2036.0 538.0 L2050.1 514.5 L2064.1 509.4 L2078.2 539.4 L2092.2 525.0 L2106.2 513.0 L2120.3 517.0 L2134.3 521.2 L2148.4 515.0 L2162.4 507.5 L2176.5 499.5 L2190.5 473.2 L2204.6 463.8 L2218.6 457.5 L2232.6 456.2 L2246.7 448.0 L2260.7 441.3 L2274.8 448.8 L2288.8 453.0 L2302.9 445.0 L2316.9 449.2 L2331.0 432.0 L2345.0 442.5 L2359.0 436.2 L2373.1 428.8 L2387.1 437.4 L2401.2 423.8 L2415.2 420.0 L2429.3 424.1 L2443.3 397.0 L2457.3 390.9 L2471.4 408.2 L2485.4 439.0 L2499.5 426.2 L2513.5 422.5 L2527.6 409.5 L2541.6 406.8 L2555.7 431.7 L2569.7 432.5 L2583.7 436.3 L2597.8 393.4 L2611.8 401.1 L2625.9 387.5 L2639.9 387.5 L2654.0 389.2 L2668.0 392.5" stroke="#5275ff"/>
<path d="M112.0 415.0 L126.0 385.3 L140.1 402.5 L154.1 419.4 L168.2 414.7 L182.2 439.9 L196.3 422.8 L210.3 435.0 L224.4 508.0 L238.4 515.0 L252.4 528.8 L266.5 570.7 L280.5 546.9 L294.6 626.9 L308.6 626.9 L322.7 595.6 L336.7 608.2 L350.7 620.3 L364.8 595.0 L378.8 594.9 L392.9 537.0 L406.9 527.0 L421.0 514.2 L435.0 524.5 L449.1 530.6 L463.1 514.0 L477.1 508.2 L491.2 489.5 L505.2 483.2 L519.3 483.2 L533.3 496.3 L547.4 483.5 L561.4 496.2 L575.5 496.3 L589.5 526.5 L603.5 533.2 L617.6 558.5 L631.6 546.1 L645.7 564.4 L659.7 533.3 L673.8 545.8 L687.8 584.5 L701.8 608.2 L715.9 608.2 L729.9 589.3 L744.0 602.0 L758.0 626.1 L772.1 620.1 L786.1 632.7 L800.2 602.0 L814.2 602.0 L828.2 602.0 L842.3 602.0 L856.3 602.0 L870.4 626.7 L884.4 626.7 L898.5 601.6 L912.5 632.4 L926.6 602.5 L940.6 613.8 L954.6 639.2 L968.7 651.3 L982.7 602.0 L996.8 595.8 L1010.8 595.7 L1024.9 570.5 L1038.9 583.1 L1052.9 570.5 L1067.0 558.0 L1081.0 527.5 L1095.1 539.3 L1109.1 527.0 L1123.2 520.8 L1137.2 514.5 L1151.3 514.6 L1165.3 552.5 L1179.3 589.3 L1193.4 547.5 L1207.4 502.1 L1221.5 502.0 L1235.5 495.8 L1249.6 495.8 L1263.6 495.8 L1277.7 484.0 L1291.7 501.9 L1305.7 478.0 L1319.8 334.5 L1333.8 328.3 L1347.9 340.6 L1361.9 328.9 L1376.0 370.0 L1390.0 426.0 L1404.0 421.2 L1418.1 384.0 L1432.1 390.0 L1446.2 390.0 L1460.2 390.0 L1474.3 366.8 L1488.3 396.0 L1502.4 378.0 L1516.4 371.8 L1530.4 371.8 L1544.5 383.8 L1558.5 396.1 L1572.6 384.4 L1586.6 427.5 L1600.7 441.2 L1614.7 458.1 L1628.8 433.8 L1642.8 433.8 L1656.8 451.4 L1670.9 402.5 L1684.9 365.0 L1699.0 340.9 L1713.0 347.0 L1727.1 353.2 L1741.1 402.5 L1755.1 408.8 L1769.2 420.6 L1783.2 374.1 L1797.3 489.9 L1811.3 490.0 L1825.4 477.5 L1839.4 442.3 L1853.5 499.2 L1867.5 399.7 L1881.5 458.8 L1895.6 477.5 L1909.6 495.8 L1923.7 479.2 L1937.7 556.6 L1951.8 510.8 L1965.8 547.5 L1979.9 569.1 L1993.9 540.0 L2007.9 533.9 L2022.0 552.4 L2036.0 545.8 L2050.1 558.0 L2064.1 558.1 L2078.2 600.6 L2092.2 546.9 L2106.2 564.5 L2120.3 577.5 L2134.3 594.6 L2148.4 577.1 L2162.4 583.2 L2176.5 620.0 L2190.5 651.2 L2204.6 651.2 L2218.6 633.2 L2232.6 602.0 L2246.7 608.0 L2260.7 596.6 L2274.8 695.5 L2288.8 701.8 L2302.9 720.0 L2316.9 720.0 L2331.0 726.2 L2345.0 726.3 L2359.0 769.0 L2373.1 738.2 L2387.1 726.4 L2401.2 738.2 L2415.2 738.2 L2429.3 707.5 L2443.3 695.9 L2457.3 719.4 L2471.4 701.2 L2485.4 676.4 L2499.5 682.3 L2513.5 659.9 L2527.6 725.9 L2541.6 720.0 L2555.7 665.5 L2569.7 609.1 L2583.7 625.7 L2597.8 601.8 L2611.8 601.7 L2625.9 547.5 L2639.9 508.8 L2654.0 477.5 L2668.0 453.8" stroke="#ff8450"/></g>
<!-- crosshair -->
<path d="M112 294.8 H2688 M2668 200 V903" stroke="#8f9ab8" stroke-width="2" fill="none"/>
<rect x="2688" y="281" width="53" height="25.7" fill="#7a859e"/>
<text x="2714.6" y="301.3" font-size="20.4" fill="#fff" text-anchor="middle">9.6K</text>
<rect x="2577" y="902" width="105" height="26" fill="#7a859e"/>
<text x="2629.7" y="922" font-size="20" fill="#fff" text-anchor="middle">14 May 20</text>
<!-- navigator -->
<rect x="23.5" y="973" width="2746.5" height="77.5" rx="7" fill="#fff" stroke="#e7eaf3" stroke-width="2"/>
<rect x="28" y="972" width="2729.5" height="79.5" fill="#e7eaf3"/>
<g fill="none" stroke-width="2" stroke-linejoin="round"><path d="M27.9 996.3 L42.4 996.9 L50.3 999.5 L58.3 998.8 L66.2 998.7 L80.9 998.5 L87.7 998.7 L102.5 1004.1 L109.3 1003.6 L117.2 1004.8 L125.1 1006.1 L133.0 1007.6 L141.0 1011.4 L145.5 1014.6 L147.5 1016.8 L155.0 1015.2 L162.4 1015.9 L170.2 1013.8 L177.6 1015.1 L185.1 1018.2 L192.5 1019.8 L200.0 1017.1 L207.4 1016.4 L214.9 1016.0 L222.4 1017.9 L229.8 1012.1 L237.3 1011.6 L244.7 1012.8 L252.2 1011.9 L259.6 1009.1 L267.1 1009.1 L274.8 1012.1 L282.3 1014.3 L289.7 1013.6 L297.2 1015.1 L304.6 1014.8 L312.1 1015.1 L319.5 1014.8 L327.0 1015.6 L334.4 1015.7 L341.9 1013.2 L349.3 1013.1 L356.8 1013.5 L364.3 1011.7 L372.0 1011.5 L379.4 1011.6 L386.9 1011.3 L394.3 1011.6 L401.8 1012.6 L409.3 1013.7 L416.7 1014.1 L424.2 1015.2 L431.6 1015.1 L439.1 1016.1 L446.5 1016.1 L454.0 1015.8 L461.4 1015.5 L468.9 1015.5 L476.6 1016.1 L484.1 1017.3 L491.5 1017.4 L499.0 1017.0 L506.4 1017.2 L513.9 1019.8 L521.3 1019.6 L528.8 1024.1 L536.2 1023.4 L543.7 1015.4 L551.2 1016.8 L558.6 1016.3 L566.1 1016.3 L573.5 1016.1 L581.2 1016.6 L588.7 1016.5 L596.1 1016.1 L603.6 1012.1 L611.1 1011.4 L618.5 1014.2 L626.0 1013.1 L633.4 1014.9 L640.9 1015.5 L648.3 1015.4 L655.8 1015.9 L663.2 1015.8 L671.0 1016.1 L678.4 1015.1 L685.9 1014.8 L693.3 1014.8 L700.8 1013.9 L708.2 1013.5 L715.7 1014.3 L723.1 1015.0 L730.6 1015.2 L738.1 1016.4 L745.5 1016.3 L753.0 1016.3 L760.4 1016.9 L767.9 1019.2 L775.3 1014.6 L782.8 1014.5 L790.2 1014.4 L797.7 1013.7 L805.4 1012.6 L812.9 1013.6 L820.3 1011.4 L827.8 1008.6 L835.2 1006.4 L842.7 1003.9 L850.1 1001.7 L857.6 1004.6 L865.3 1007.1 L872.8 1007.4 L880.2 1008.2 L887.7 1003.7 L895.1 1004.7 L902.6 1005.3 L910.0 1004.0 L917.5 1003.3 L925.0 1004.0 L932.7 1004.0 L936.7 999.9 L939.3 998.2 L947.3 995.1 L954.8 996.0 L962.2 995.3 L969.9 996.9 L977.4 996.3 L984.9 993.9 L992.3 993.6 L999.8 994.5 L1007.2 993.5 L1014.7 997.0 L1022.1 996.5 L1029.8 997.2 L1037.3 997.2 L1044.8 997.2 L1052.2 996.1 L1059.7 997.1 L1067.1 996.9 L1074.6 999.9 L1082.0 1000.5 L1089.5 1000.9 L1096.9 1000.1 L1104.4 1001.6 L1111.8 1001.0 L1119.3 999.8 L1127.0 998.0 L1134.5 996.5 L1141.9 994.0 L1149.7 991.6 L1156.3 988.1 L1164.3 989.0 L1171.8 988.5 L1179.2 988.2 L1186.1 986.2 L1194.1 988.4 L1201.6 988.1 L1209.0 988.1 L1216.5 987.6 L1223.9 987.1 L1231.4 988.2 L1238.8 988.1 L1246.3 988.8 L1253.8 990.2 L1261.2 990.3 L1268.7 987.5 L1276.1 984.6 L1283.6 984.0 L1291.0 983.2 L1298.5 982.0 L1305.9 982.2 L1313.4 982.2 L1321.1 981.4 L1328.6 978.4 L1336.0 978.0 L1343.5 982.1 L1350.9 981.5 L1358.4 982.2 L1365.8 976.8 L1373.3 975.2 L1380.7 975.3 L1388.5 977.8 L1395.9 976.8 L1403.4 976.4 L1410.8 975.5 L1418.3 976.6 L1425.7 980.9 L1433.2 980.2 L1440.9 980.4 L1448.4 984.2 L1455.8 983.6 L1463.3 983.2 L1470.7 977.7 L1478.2 977.5 L1485.6 984.3 L1493.1 984.7 L1500.6 984.7 L1508.0 983.6 L1515.5 983.7 L1522.9 984.3 L1530.4 983.9 L1537.8 981.7 L1545.5 980.6 L1553.0 982.4 L1560.5 984.1 L1567.9 985.1 L1575.4 988.2 L1582.8 990.4 L1590.3 995.0 L1597.7 995.3 L1605.2 995.5 L1612.6 997.9 L1620.1 997.0 L1627.5 996.7 L1635.0 997.9 L1642.7 997.3 L1650.2 998.4 L1657.6 995.9 L1665.1 994.4 L1672.5 994.3 L1680.0 995.5 L1687.5 995.9 L1694.9 995.9 L1702.4 991.3 L1709.8 991.6 L1717.3 990.7 L1724.7 991.0 L1732.2 991.0 L1739.6 993.6 L1747.4 995.9 L1754.8 1004.5 L1762.3 1008.1 L1769.7 1006.5 L1777.2 1005.0 L1784.6 1007.0 L1792.1 1007.9 L1799.5 1007.0 L1807.0 1029.0 L1814.4 1045.1 L1822.2 1038.7 L1829.6 1037.9 L1837.1 1038.9 L1844.5 1042.5 L1852.0 1039.5 L1859.4 1040.2 L1866.9 1049.6 L1874.3 1045.1 L1881.8 1042.4 L1889.3 1042.4 L1896.7 1043.2 L1904.2 1042.2 L1911.6 1039.0 L1919.3 1029.5 L1926.8 1023.3 L1934.3 1029.6 L1941.7 1031.3 L1949.2 1029.7 L1956.6 1029.5 L1964.1 1034.4 L1971.5 1034.0 L1979.0 1026.7 L1986.4 1022.4 L1993.9 1022.5 L2001.3 1024.7 L2008.8 1023.2 L2016.3 1023.9 L2023.7 1022.7 L2031.2 1023.3 L2038.9 1026.0 L2046.3 1028.6 L2053.8 1029.0 L2061.2 1029.9 L2068.7 1033.0 L2076.2 1027.8 L2083.6 1026.5 L2091.1 1026.9 L2098.5 1026.4 L2106.0 1027.5 L2113.4 1024.2 L2120.9 1023.4 L2128.3 1021.8 L2136.1 1019.3 L2143.5 1022.5 L2151.0 1022.4 L2158.4 1020.8 L2165.9 1021.8 L2173.3 1021.8 L2180.8 1017.6 L2188.2 1015.4 L2195.7 1014.1 L2203.2 1016.7 L2210.6 1015.3 L2218.1 1014.7 L2225.5 1015.7 L2233.2 1015.0 L2240.7 1020.1 L2248.1 1020.8 L2255.6 1020.8 L2263.1 1020.9 L2270.5 1020.8 L2278.0 1019.5 L2285.4 1021.6 L2292.9 1021.0 L2300.3 1021.0 L2307.8 1021.0 L2315.2 1021.8 L2323.0 1023.6 L2330.4 1018.8 L2337.9 1017.5 L2345.3 1017.7 L2352.8 1017.8 L2360.2 1017.2 L2367.7 1015.6 L2375.1 1016.1 L2382.6 1016.5 L2390.0 1018.5 L2397.5 1020.6 L2405.0 1021.1 L2412.4 1020.6 L2419.9 1019.1 L2427.6 1017.5 L2435.0 1017.7 L2442.5 1013.4 L2450.0 1011.9 L2457.4 1011.8 L2464.9 1011.5 L2472.3 1011.6 L2479.8 1010.7 L2487.2 1010.2 L2494.7 1009.5 L2502.1 1008.6 L2509.6 1009.1 L2517.0 1008.4 L2524.5 1004.5 L2532.2 995.3 L2539.7 994.2 L2547.1 996.7 L2554.6 993.0 L2562.0 994.5 L2569.5 994.1 L2576.9 992.9 L2584.4 991.7 L2591.9 994.1 L2599.3 996.2 L2606.8 993.9 L2614.2 994.1 L2621.7 992.7 L2629.4 988.8 L2636.8 989.1 L2644.3 988.8 L2651.8 980.2 L2659.2 980.6 L2666.7 981.6 L2674.1 984.4 L2681.6 985.0 L2689.0 996.0 L2696.5 995.9 L2703.9 994.2 L2711.7 997.6 L2719.1 995.6 L2726.6 995.2 L2734.0 992.9 L2741.5 989.5 L2748.9 985.1 L2756.4 984.0" stroke="#26c953"/>
<path d="M28.0 1041.5 L43.0 1040.2 L57.9 1040.3 L72.9 1039.7 L87.8 1039.1 L102.8 1040.7 L117.7 1038.9 L132.7 1038.7 L147.6 1037.4 L162.6 1036.9 L177.6 1035.7 L192.5 1035.4 L207.5 1034.3 L222.4 1036.5 L237.4 1035.5 L252.3 1034.6 L267.3 1033.7 L282.3 1032.6 L297.2 1031.8 L312.2 1031.0 L327.1 1030.2 L342.1 1029.7 L357.0 1029.1 L372.0 1028.2 L386.9 1027.4 L401.9 1026.5 L416.9 1025.8 L431.8 1025.1 L446.8 1024.4 L461.7 1023.7 L476.7 1023.1 L491.6 1023.3 L506.6 1022.5 L521.6 1028.7 L536.5 1027.9 L551.5 1027.4 L566.4 1026.8 L581.4 1025.8 L596.3 1025.6 L611.3 1025.2 L626.2 1024.0 L641.2 1024.2 L656.2 1023.7 L671.1 1023.2 L686.1 1022.6 L701.0 1021.7 L716.0 1021.3 L730.9 1021.5 L745.9 1020.4 L760.8 1021.0 L775.8 1020.3 L790.8 1020.0 L805.7 1019.2 L820.7 1018.7 L835.6 1017.9 L850.6 1017.2 L865.5 1016.3 L880.5 1015.4 L895.5 1014.3 L910.4 1013.8 L925.4 1013.4 L940.3 1012.8 L955.3 1012.1 L970.2 1011.0 L985.2 1010.7 L1000.1 1009.4 L1015.1 1008.7 L1030.1 1007.6 L1045.0 1007.3 L1060.0 1006.1 L1074.9 1005.0 L1089.9 1005.1 L1104.8 1007.0 L1119.8 1007.0 L1134.8 1006.5 L1149.7 1006.5 L1164.7 1005.3 L1179.6 1004.8 L1194.6 1004.3 L1209.5 1004.0 L1224.5 1004.5 L1239.4 1007.6 L1254.4 1007.8 L1269.4 1007.5 L1284.3 1006.8 L1299.3 1009.3 L1314.2 1008.7 L1329.2 1007.6 L1344.1 1007.0 L1359.1 1006.7 L1374.0 1005.5 L1389.0 1005.2 L1404.0 1004.3 L1418.9 1003.6 L1433.9 1003.6 L1448.8 1002.9 L1463.8 1002.4 L1478.7 1001.6 L1493.7 1001.8 L1508.7 1001.6 L1523.6 1001.1 L1538.6 1000.4 L1553.5 999.7 L1568.5 999.0 L1583.4 998.4 L1598.4 997.9 L1613.3 997.6 L1628.3 996.7 L1643.3 995.6 L1658.2 994.9 L1673.2 994.4 L1688.1 994.4 L1703.1 993.4 L1718.0 992.5 L1733.0 991.8 L1748.0 991.2 L1762.9 990.7 L1777.9 990.2 L1792.8 989.8 L1807.8 989.2 L1822.7 988.9 L1837.7 988.9 L1852.6 989.0 L1867.6 988.6 L1882.6 988.2 L1897.5 987.5 L1912.5 987.1 L1927.4 986.2 L1942.4 985.7 L1957.3 985.2 L1972.3 984.5 L1987.2 984.0 L2002.2 983.3 L2017.2 984.0 L2032.1 986.4 L2047.1 986.6 L2062.0 986.2 L2077.0 987.2 L2091.9 989.3 L2106.9 991.5 L2121.9 991.1 L2136.8 990.7 L2151.8 991.4 L2166.7 990.8 L2181.7 990.6 L2196.6 995.9 L2211.6 995.2 L2226.5 994.6 L2241.5 994.5 L2256.5 994.2 L2271.4 994.0 L2286.4 994.2 L2301.3 993.6 L2316.3 999.4 L2331.2 998.8 L2346.2 998.2 L2361.2 998.9 L2376.1 1002.6 L2391.1 1002.2 L2406.0 1001.4 L2421.0 1000.6 L2435.9 999.5 L2450.9 999.3 L2465.8 998.5 L2480.8 997.9 L2495.8 997.4 L2510.7 996.8 L2525.7 995.4 L2540.6 993.8 L2555.6 992.3 L2570.5 994.2 L2585.5 995.1 L2600.4 994.3 L2615.4 993.6 L2630.4 992.6 L2645.3 991.7 L2660.3 990.3 L2675.2 989.6 L2690.2 989.3 L2705.1 988.9 L2720.1 988.0 L2735.1 986.9 L2750.0 985.3" stroke="#ac948c"/>
<path d="M28.0 1037.1 L43.0 1035.6 L57.9 1034.5 L72.9 1034.6 L87.8 1033.8 L102.8 1034.8 L117.7 1033.9 L132.7 1033.4 L147.6 1033.1 L162.6 1032.5 L177.6 1031.2 L192.5 1030.3 L207.5 1030.4 L222.4 1031.0 L237.4 1029.8 L252.3 1029.7 L267.3 1029.7 L282.3 1028.7 L297.2 1027.8 L312.2 1027.1 L327.1 1026.2 L342.1 1026.3 L357.0 1027.7 L372.0 1029.5 L386.9 1029.5 L401.9 1032.4 L416.9 1035.5 L431.8 1040.0 L446.8 1040.5 L461.7 1040.2 L476.7 1039.8 L491.6 1041.9 L506.6 1044.2 L521.6 1046.5 L536.5 1046.5 L551.5 1045.8 L566.4 1044.5 L581.4 1043.1 L596.3 1042.4 L611.3 1042.0 L626.2 1041.6 L641.2 1041.2 L656.2 1041.1 L671.1 1040.5 L686.1 1039.1 L701.0 1038.4 L716.0 1037.8 L730.9 1037.1 L745.9 1036.4 L760.8 1037.4 L775.8 1038.1 L790.8 1037.1 L805.7 1036.0 L820.7 1036.0 L835.6 1035.2 L850.6 1033.9 L865.5 1033.3 L880.5 1032.6 L895.5 1030.8 L910.4 1029.6 L925.4 1029.1 L940.3 1029.0 L955.3 1027.9 L970.2 1027.1 L985.2 1026.5 L1000.1 1025.0 L1015.1 1024.6 L1030.1 1024.8 L1045.0 1024.4 L1060.0 1024.6 L1074.9 1026.6 L1089.9 1025.9 L1104.8 1025.4 L1119.8 1024.4 L1134.8 1025.2 L1149.7 1025.7 L1164.7 1025.8 L1179.6 1025.3 L1194.6 1025.5 L1209.5 1025.8 L1224.5 1027.6 L1239.4 1028.1 L1254.4 1027.4 L1269.4 1026.8 L1284.3 1025.9 L1299.3 1025.0 L1314.2 1024.2 L1329.2 1023.3 L1344.1 1022.3 L1359.1 1021.9 L1374.0 1020.4 L1389.0 1019.9 L1404.0 1018.4 L1418.9 1017.4 L1433.9 1017.1 L1448.8 1016.7 L1463.8 1016.0 L1478.7 1015.9 L1493.7 1015.7 L1508.7 1014.7 L1523.6 1013.0 L1538.6 1011.9 L1553.5 1011.8 L1568.5 1010.8 L1583.4 1010.1 L1598.4 1009.5 L1613.3 1008.2 L1628.3 1007.0 L1643.3 1006.5 L1658.2 1006.7 L1673.2 1008.0 L1688.1 1007.4 L1703.1 1006.6 L1718.0 1005.6 L1733.0 1004.0 L1748.0 1002.7 L1762.9 1002.3 L1777.9 1003.1 L1792.8 1002.9 L1807.8 1003.3 L1822.7 1002.6 L1837.7 1004.2 L1852.6 1007.3 L1867.6 1006.1 L1882.6 1006.0 L1897.5 1004.5 L1912.5 1003.1 L1927.4 1000.8 L1942.4 1000.4 L1957.3 999.6 L1972.3 998.3 L1987.2 997.8 L2002.2 995.6 L2017.2 998.8 L2032.1 1001.2 L2047.1 999.6 L2062.0 998.4 L2077.0 998.5 L2091.9 999.3 L2106.9 999.5 L2121.9 999.5 L2136.8 998.9 L2151.8 997.7 L2166.7 996.5 L2181.7 995.9 L2196.6 997.7 L2211.6 996.8 L2226.5 995.6 L2241.5 994.3 L2256.5 993.0 L2271.4 992.2 L2286.4 992.7 L2301.3 993.3 L2316.3 993.0 L2331.2 992.5 L2346.2 994.2 L2361.2 993.9 L2376.1 992.6 L2391.1 991.9 L2406.0 990.5 L2421.0 988.2 L2435.9 987.6 L2450.9 985.9 L2465.8 986.0 L2480.8 985.3 L2495.8 984.5 L2510.7 984.1 L2525.7 981.9 L2540.6 979.6 L2555.6 978.4 L2570.5 981.5 L2585.5 983.1 L2600.4 981.7 L2615.4 983.9 L2630.4 985.0 L2645.3 984.9 L2660.3 983.5 L2675.2 983.1 L2690.2 984.4 L2705.1 987.7 L2720.1 987.6 L2735.1 986.1 L2750.0 984.6" stroke="#f47bf7"/>
<path d="M28.0 1044.3 L43.0 1043.7 L57.9 1042.5 L72.9 1041.8 L87.8 1041.0 L102.8 1041.9 L117.7 1042.8 L132.7 1043.6 L147.6 1043.4 L162.6 1042.1 L177.6 1040.6 L192.5 1039.5 L207.5 1039.4 L222.4 1039.2 L237.4 1038.8 L252.3 1037.3 L267.3 1036.5 L282.3 1034.9 L297.2 1035.0 L312.2 1034.6 L327.1 1034.2 L342.1 1034.2 L357.0 1033.7 L372.0 1033.1 L386.9 1032.0 L401.9 1031.7 L416.9 1032.2 L431.8 1032.3 L446.8 1031.7 L461.7 1031.2 L476.7 1030.4 L491.6 1030.8 L506.6 1031.3 L521.6 1031.0 L536.5 1030.0 L551.5 1030.4 L566.4 1029.2 L581.4 1028.2 L596.3 1028.0 L611.3 1028.2 L626.2 1028.9 L641.2 1028.4 L656.2 1027.9 L671.1 1027.2 L686.1 1025.9 L701.0 1024.8 L716.0 1025.0 L730.9 1025.9 L745.9 1026.9 L760.8 1025.9 L775.8 1025.9 L790.8 1025.2 L805.7 1024.4 L820.7 1025.4 L835.6 1026.1 L850.6 1026.4 L865.5 1030.4 L880.5 1028.9 L895.5 1027.7 L910.4 1026.4 L925.4 1026.1 L940.3 1027.1 L955.3 1026.8 L970.2 1027.2 L985.2 1026.9 L1000.1 1025.7 L1015.1 1024.6 L1030.1 1025.4 L1045.0 1027.2 L1060.0 1030.8 L1074.9 1031.5 L1089.9 1031.8 L1104.8 1031.1 L1119.8 1030.5 L1134.8 1030.2 L1149.7 1030.6 L1164.7 1030.6 L1179.6 1030.2 L1194.6 1029.6 L1209.5 1028.2 L1224.5 1026.8 L1239.4 1026.8 L1254.4 1026.6 L1269.4 1027.1 L1284.3 1027.0 L1299.3 1027.3 L1314.2 1027.7 L1329.2 1027.8 L1344.1 1026.6 L1359.1 1027.9 L1374.0 1029.2 L1389.0 1030.1 L1404.0 1028.6 L1418.9 1028.4 L1433.9 1027.5 L1448.8 1027.5 L1463.8 1028.8 L1478.7 1029.9 L1493.7 1029.5 L1508.7 1030.1 L1523.6 1028.5 L1538.6 1027.7 L1553.5 1027.5 L1568.5 1026.0 L1583.4 1025.2 L1598.4 1026.4 L1613.3 1026.2 L1628.3 1024.8 L1643.3 1024.1 L1658.2 1023.4 L1673.2 1023.1 L1688.1 1022.3 L1703.1 1021.8 L1718.0 1022.9 L1733.0 1021.3 L1748.0 1019.7 L1762.9 1019.8 L1777.9 1018.4 L1792.8 1016.8 L1807.8 1015.9 L1822.7 1014.9 L1837.7 1014.8 L1852.6 1013.4 L1867.6 1012.4 L1882.6 1012.4 L1897.5 1010.0 L1912.5 1007.6 L1927.4 1005.2 L1942.4 1004.7 L1957.3 1002.9 L1972.3 1002.0 L1987.2 1001.2 L2002.2 998.3 L2017.2 1002.3 L2032.1 1003.9 L2047.1 1001.7 L2062.0 1000.5 L2077.0 1000.0 L2091.9 1000.3 L2106.9 999.7 L2121.9 1000.1 L2136.8 998.9 L2151.8 997.0 L2166.7 994.7 L2181.7 993.5 L2196.6 992.3 L2211.6 993.9 L2226.5 992.5 L2241.5 991.7 L2256.5 989.9 L2271.4 988.7 L2286.4 987.7 L2301.3 988.5 L2316.3 987.8 L2331.2 986.0 L2346.2 984.4 L2361.2 992.0 L2376.1 990.0 L2391.1 990.2 L2406.0 990.3 L2421.0 986.9 L2435.9 987.8 L2450.9 986.4 L2465.8 986.4 L2480.8 985.5 L2495.8 984.3 L2510.7 986.8 L2525.7 983.6 L2540.6 981.7 L2555.6 980.6 L2570.5 985.4 L2585.5 990.3 L2600.4 989.7 L2615.4 989.2 L2630.4 988.4 L2645.3 989.9 L2660.3 989.9 L2675.2 988.8 L2690.2 991.0 L2705.1 990.2 L2720.1 988.8 L2735.1 987.3 L2750.0 985.1" stroke="#ff5b5b"/>
<path d="M28.0 1044.0 L43.0 1043.8 L57.9 1043.6 L72.9 1043.8 L87.8 1043.2 L102.8 1044.1 L117.7 1044.1 L132.7 1043.4 L147.6 1042.0 L162.6 1042.9 L177.6 1042.3 L192.5 1040.7 L207.5 1040.4 L222.4 1040.1 L237.4 1040.5 L252.3 1039.3 L267.3 1038.7 L282.3 1037.9 L297.2 1037.5 L312.2 1037.5 L327.1 1038.4 L342.1 1037.9 L357.0 1037.4 L372.0 1037.3 L386.9 1037.3 L401.9 1037.2 L416.9 1037.3 L431.8 1037.6 L446.8 1037.2 L461.7 1036.7 L476.7 1036.7 L491.6 1036.7 L506.6 1037.6 L521.6 1036.8 L536.5 1036.0 L551.5 1036.6 L566.4 1036.6 L581.4 1036.2 L596.3 1035.8 L611.3 1036.0 L626.2 1036.5 L641.2 1036.4 L656.2 1036.0 L671.1 1035.5 L686.1 1035.1 L701.0 1035.3 L716.0 1035.6 L730.9 1036.4 L745.9 1036.0 L760.8 1036.0 L775.8 1036.0 L790.8 1035.7 L805.7 1035.3 L820.7 1035.8 L835.6 1036.0 L850.6 1035.6 L865.5 1037.5 L880.5 1036.8 L895.5 1036.2 L910.4 1036.0 L925.4 1035.9 L940.3 1036.8 L955.3 1036.8 L970.2 1036.6 L985.2 1036.4 L1000.1 1035.8 L1015.1 1035.5 L1030.1 1035.5 L1045.0 1035.1 L1060.0 1034.6 L1074.9 1034.1 L1089.9 1033.9 L1104.8 1033.3 L1119.8 1032.8 L1134.8 1032.1 L1149.7 1033.1 L1164.7 1033.0 L1179.6 1032.9 L1194.6 1032.6 L1209.5 1032.0 L1224.5 1031.4 L1239.4 1031.4 L1254.4 1031.7 L1269.4 1031.7 L1284.3 1032.0 L1299.3 1032.4 L1314.2 1032.7 L1329.2 1032.9 L1344.1 1032.0 L1359.1 1032.8 L1374.0 1032.8 L1389.0 1033.5 L1404.0 1032.9 L1418.9 1033.2 L1433.9 1033.3 L1448.8 1032.9 L1463.8 1032.8 L1478.7 1032.2 L1493.7 1031.2 L1508.7 1030.8 L1523.6 1030.1 L1538.6 1029.7 L1553.5 1030.0 L1568.5 1029.2 L1583.4 1028.5 L1598.4 1027.7 L1613.3 1027.0 L1628.3 1025.9 L1643.3 1025.7 L1658.2 1025.6 L1673.2 1025.0 L1688.1 1024.2 L1703.1 1023.7 L1718.0 1024.0 L1733.0 1024.2 L1748.0 1022.8 L1762.9 1021.7 L1777.9 1020.2 L1792.8 1018.9 L1807.8 1017.6 L1822.7 1015.2 L1837.7 1014.6 L1852.6 1013.7 L1867.6 1012.9 L1882.6 1011.1 L1897.5 1009.0 L1912.5 1007.6 L1927.4 1006.9 L1942.4 1007.8 L1957.3 1007.8 L1972.3 1006.8 L1987.2 1006.3 L2002.2 1004.2 L2017.2 1004.7 L2032.1 1004.2 L2047.1 1002.1 L2062.0 1001.8 L2077.0 1000.7 L2091.9 999.5 L2106.9 998.6 L2121.9 997.7 L2136.8 997.0 L2151.8 996.0 L2166.7 995.0 L2181.7 995.3 L2196.6 995.4 L2211.6 996.2 L2226.5 995.8 L2241.5 994.9 L2256.5 994.4 L2271.4 993.9 L2286.4 993.6 L2301.3 993.5 L2316.3 992.2 L2331.2 993.0 L2346.2 992.9 L2361.2 993.2 L2376.1 992.4 L2391.1 991.1 L2406.0 989.5 L2421.0 987.2 L2435.9 986.6 L2450.9 986.1 L2465.8 986.0 L2480.8 985.4 L2495.8 984.1 L2510.7 987.5 L2525.7 985.3 L2540.6 984.8 L2555.6 984.8 L2570.5 985.2 L2585.5 988.0 L2600.4 986.8 L2615.4 986.1 L2630.4 986.0 L2645.3 985.2 L2660.3 985.6 L2675.2 986.2 L2690.2 987.7 L2705.1 986.2 L2720.1 984.6 L2735.1 983.2 L2750.0 980.7" stroke="#ffc53d"/>
<path d="M28.0 1030.4 L43.0 1028.9 L57.9 1031.2 L72.9 1030.8 L87.8 1029.3 L102.8 1028.8 L117.7 1031.1 L132.7 1030.4 L147.6 1032.7 L162.6 1031.2 L177.6 1030.2 L192.5 1028.7 L207.5 1028.0 L222.4 1031.9 L237.4 1032.0 L252.3 1034.9 L267.3 1040.6 L282.3 1039.5 L297.2 1038.9 L312.2 1038.2 L327.1 1039.1 L342.1 1038.2 L357.0 1037.8 L372.0 1037.7 L386.9 1037.4 L401.9 1037.1 L416.9 1036.6 L431.8 1036.7 L446.8 1035.7 L461.7 1035.3 L476.7 1034.7 L491.6 1034.3 L506.6 1034.2 L521.6 1033.3 L536.5 1033.2 L551.5 1033.8 L566.4 1033.2 L581.4 1033.0 L596.3 1033.0 L611.3 1034.9 L626.2 1035.7 L641.2 1035.3 L656.2 1034.9 L671.1 1034.1 L686.1 1034.0 L701.0 1033.6 L716.0 1033.1 L730.9 1034.1 L745.9 1033.1 L760.8 1033.1 L775.8 1033.0 L790.8 1032.6 L805.7 1032.4 L820.7 1032.7 L835.6 1032.1 L850.6 1031.3 L865.5 1032.8 L880.5 1030.6 L895.5 1030.2 L910.4 1030.1 L925.4 1029.9 L940.3 1030.0 L955.3 1030.9 L970.2 1030.6 L985.2 1030.2 L1000.1 1029.8 L1015.1 1032.6 L1030.1 1032.4 L1045.0 1032.3 L1060.0 1030.8 L1074.9 1030.6 L1089.9 1030.9 L1104.8 1030.7 L1119.8 1030.4 L1134.8 1029.7 L1149.7 1029.7 L1164.7 1029.3 L1179.6 1029.7 L1194.6 1029.4 L1209.5 1028.7 L1224.5 1028.1 L1239.4 1028.2 L1254.4 1027.9 L1269.4 1029.1 L1284.3 1028.4 L1299.3 1028.8 L1314.2 1028.1 L1329.2 1028.0 L1344.1 1026.4 L1359.1 1026.6 L1374.0 1025.4 L1389.0 1026.3 L1404.0 1027.0 L1418.9 1027.7 L1433.9 1027.6 L1448.8 1026.0 L1463.8 1024.9 L1478.7 1025.4 L1493.7 1024.0 L1508.7 1024.8 L1523.6 1024.0 L1538.6 1023.7 L1553.5 1024.2 L1568.5 1023.7 L1583.4 1023.4 L1598.4 1022.0 L1613.3 1021.6 L1628.3 1020.8 L1643.3 1020.5 L1658.2 1020.3 L1673.2 1019.0 L1688.1 1018.1 L1703.1 1017.3 L1718.0 1018.3 L1733.0 1017.0 L1748.0 1016.3 L1762.9 1016.3 L1777.9 1015.0 L1792.8 1014.1 L1807.8 1020.0 L1822.7 1019.7 L1837.7 1020.2 L1852.6 1021.6 L1867.6 1020.2 L1882.6 1017.9 L1897.5 1016.1 L1912.5 1013.7 L1927.4 1013.7 L1942.4 1013.6 L1957.3 1012.8 L1972.3 1012.3 L1987.2 1012.3 L2002.2 1010.1 L2017.2 1010.1 L2032.1 1009.1 L2047.1 1008.9 L2062.0 1008.1 L2077.0 1007.2 L2091.9 1005.9 L2106.9 1004.5 L2121.9 1004.9 L2136.8 1004.4 L2151.8 1003.7 L2166.7 1003.1 L2181.7 1003.6 L2196.6 1002.4 L2211.6 1001.8 L2226.5 1001.3 L2241.5 1000.8 L2256.5 1000.5 L2271.4 1000.0 L2286.4 999.6 L2301.3 998.8 L2316.3 997.3 L2331.2 996.6 L2346.2 997.1 L2361.2 996.9 L2376.1 996.8 L2391.1 995.3 L2406.0 994.2 L2421.0 992.1 L2435.9 990.9 L2450.9 990.2 L2465.8 990.1 L2480.8 989.3 L2495.8 988.3 L2510.7 987.4 L2525.7 985.1 L2540.6 985.8 L2555.6 986.9 L2570.5 986.4 L2585.5 986.2 L2600.4 985.1 L2615.4 984.1 L2630.4 984.1 L2645.3 985.2 L2660.3 986.1 L2675.2 990.2 L2690.2 989.3 L2705.1 988.1 L2720.1 987.1 L2735.1 986.4 L2750.0 985.0" stroke="#6f4e42"/>
<path d="M28.0 1016.7 L43.0 1017.9 L57.9 1017.8 L72.9 1016.9 L87.8 1015.0 L102.8 1015.5 L117.7 1019.5 L132.7 1026.9 L147.6 1032.2 L162.6 1033.1 L177.6 1032.9 L192.5 1030.1 L207.5 1029.0 L222.4 1025.0 L237.4 1025.5 L252.3 1034.0 L267.3 1033.9 L282.3 1033.3 L297.2 1033.5 L312.2 1031.0 L327.1 1028.5 L342.1 1027.8 L357.0 1027.4 L372.0 1027.6 L386.9 1026.4 L401.9 1024.8 L416.9 1025.1 L431.8 1022.8 L446.8 1021.5 L461.7 1023.9 L476.7 1023.2 L491.6 1022.6 L506.6 1023.3 L521.6 1021.4 L536.5 1022.9 L551.5 1022.6 L566.4 1022.3 L581.4 1022.1 L596.3 1021.8 L611.3 1023.7 L626.2 1023.2 L641.2 1022.3 L656.2 1021.8 L671.1 1020.4 L686.1 1019.3 L701.0 1018.9 L716.0 1020.3 L730.9 1019.9 L745.9 1020.3 L760.8 1020.7 L775.8 1018.8 L790.8 1018.2 L805.7 1017.9 L820.7 1017.9 L835.6 1019.0 L850.6 1020.0 L865.5 1017.1 L880.5 1019.2 L895.5 1017.6 L910.4 1017.0 L925.4 1015.7 L940.3 1016.8 L955.3 1015.7 L970.2 1015.9 L985.2 1017.6 L1000.1 1014.4 L1015.1 1014.2 L1030.1 1013.9 L1045.0 1012.7 L1060.0 1012.4 L1074.9 1012.2 L1089.9 1011.9 L1104.8 1010.8 L1119.8 1010.7 L1134.8 1008.7 L1149.7 1009.9 L1164.7 1009.4 L1179.6 1010.2 L1194.6 1011.5 L1209.5 1011.4 L1224.5 1010.8 L1239.4 1010.6 L1254.4 1009.7 L1269.4 1010.2 L1284.3 1004.2 L1299.3 1005.4 L1314.2 1005.4 L1329.2 1004.7 L1344.1 1004.9 L1359.1 998.8 L1374.0 999.2 L1389.0 1001.4 L1404.0 1004.5 L1418.9 1005.9 L1433.9 1005.7 L1448.8 1007.9 L1463.8 1007.8 L1478.7 1004.5 L1493.7 1005.0 L1508.7 1004.0 L1523.6 1003.8 L1538.6 1002.3 L1553.5 1002.0 L1568.5 1002.4 L1583.4 1002.8 L1598.4 1000.3 L1613.3 1001.0 L1628.3 1001.1 L1643.3 1000.8 L1658.2 1000.2 L1673.2 1001.6 L1688.1 1001.2 L1703.1 999.7 L1718.0 990.8 L1733.0 993.3 L1748.0 995.5 L1762.9 992.6 L1777.9 994.0 L1792.8 1002.7 L1807.8 1011.8 L1822.7 1013.8 L1837.7 1015.7 L1852.6 1013.3 L1867.6 1013.9 L1882.6 1013.4 L1897.5 1011.7 L1912.5 1010.0 L1927.4 1012.2 L1942.4 1011.1 L1957.3 1009.8 L1972.3 1010.7 L1987.2 1013.9 L2002.2 1012.8 L2017.2 1013.6 L2032.1 1012.9 L2047.1 1011.9 L2062.0 1011.2 L2077.0 1011.1 L2091.9 1008.6 L2106.9 1008.0 L2121.9 1011.3 L2136.8 1009.7 L2151.8 1008.4 L2166.7 1008.8 L2181.7 1009.3 L2196.6 1008.6 L2211.6 1007.8 L2226.5 1006.9 L2241.5 1004.0 L2256.5 1002.9 L2271.4 1002.3 L2286.4 1002.1 L2301.3 1001.2 L2316.3 1000.5 L2331.2 1001.3 L2346.2 1001.8 L2361.2 1000.9 L2376.1 1001.3 L2391.1 999.4 L2406.0 1000.6 L2421.0 999.9 L2435.9 999.1 L2450.9 1000.0 L2465.8 998.5 L2480.8 998.1 L2495.8 998.6 L2510.7 995.6 L2525.7 994.9 L2540.6 996.8 L2555.6 1000.2 L2570.5 998.8 L2585.5 998.4 L2600.4 996.9 L2615.4 996.7 L2630.4 999.4 L2645.3 999.5 L2660.3 999.9 L2675.2 995.2 L2690.2 996.0 L2705.1 994.5 L2720.1 994.5 L2735.1 994.7 L2750.0 995.1" stroke="#5275ff"/>
<path d="M28.0 997.6 L43.0 994.3 L57.9 996.2 L72.9 998.0 L87.8 997.5 L102.8 1000.3 L117.7 998.4 L132.7 999.8 L147.6 1007.8 L162.6 1008.6 L177.6 1010.1 L192.5 1014.8 L207.5 1012.1 L222.4 1021.0 L237.4 1021.0 L252.3 1017.5 L267.3 1018.9 L282.3 1020.2 L297.2 1017.5 L312.2 1017.4 L327.1 1011.0 L342.1 1009.9 L357.0 1008.5 L372.0 1009.7 L386.9 1010.3 L401.9 1008.5 L416.9 1007.9 L431.8 1005.8 L446.8 1005.1 L461.7 1005.1 L476.7 1006.5 L491.6 1005.1 L506.6 1006.5 L521.6 1006.5 L536.5 1009.9 L551.5 1010.6 L566.4 1013.4 L581.4 1012.0 L596.3 1014.1 L611.3 1010.6 L626.2 1012.0 L641.2 1016.3 L656.2 1018.9 L671.1 1018.9 L686.1 1016.8 L701.0 1018.2 L716.0 1020.9 L730.9 1020.2 L745.9 1021.6 L760.8 1018.2 L775.8 1018.2 L790.8 1018.2 L805.7 1018.2 L820.7 1018.2 L835.6 1021.0 L850.6 1021.0 L865.5 1018.2 L880.5 1021.6 L895.5 1018.3 L910.4 1019.5 L925.4 1022.3 L940.3 1023.7 L955.3 1018.2 L970.2 1017.5 L985.2 1017.5 L1000.1 1014.7 L1015.1 1016.1 L1030.1 1014.7 L1045.0 1013.4 L1060.0 1010.0 L1074.9 1011.3 L1089.9 1009.9 L1104.8 1009.2 L1119.8 1008.6 L1134.8 1008.6 L1149.7 1012.8 L1164.7 1016.8 L1179.6 1012.2 L1194.6 1007.2 L1209.5 1007.2 L1224.5 1006.5 L1239.4 1006.5 L1254.4 1006.5 L1269.4 1005.2 L1284.3 1007.2 L1299.3 1004.5 L1314.2 988.7 L1329.2 988.0 L1344.1 989.3 L1359.1 988.0 L1374.0 992.6 L1389.0 998.8 L1404.0 998.2 L1418.9 994.1 L1433.9 994.8 L1448.8 994.8 L1463.8 994.8 L1478.7 992.2 L1493.7 995.5 L1508.7 993.5 L1523.6 992.8 L1538.6 992.8 L1553.5 994.1 L1568.5 995.5 L1583.4 994.2 L1598.4 998.9 L1613.3 1000.5 L1628.3 1002.3 L1643.3 999.6 L1658.2 999.6 L1673.2 1001.6 L1688.1 996.2 L1703.1 992.0 L1718.0 989.4 L1733.0 990.0 L1748.0 990.7 L1762.9 996.2 L1777.9 996.9 L1792.8 998.2 L1807.8 993.0 L1822.7 1005.8 L1837.7 1005.8 L1852.6 1004.5 L1867.6 1000.6 L1882.6 1006.9 L1897.5 995.9 L1912.5 1002.4 L1927.4 1004.5 L1942.4 1006.5 L1957.3 1004.7 L1972.3 1013.2 L1987.2 1008.1 L2002.2 1012.2 L2017.2 1014.6 L2032.1 1011.4 L2047.1 1010.7 L2062.0 1012.7 L2077.0 1012.0 L2091.9 1013.4 L2106.9 1013.4 L2121.9 1018.1 L2136.8 1012.1 L2151.8 1014.1 L2166.7 1015.5 L2181.7 1017.4 L2196.6 1015.5 L2211.6 1016.1 L2226.5 1020.2 L2241.5 1023.7 L2256.5 1023.7 L2271.4 1021.7 L2286.4 1018.2 L2301.3 1018.9 L2316.3 1017.6 L2331.2 1028.6 L2346.2 1029.2 L2361.2 1031.3 L2376.1 1031.3 L2391.1 1032.0 L2406.0 1032.0 L2421.0 1036.7 L2435.9 1033.3 L2450.9 1032.0 L2465.8 1033.3 L2480.8 1033.3 L2495.8 1029.9 L2510.7 1028.6 L2525.7 1031.2 L2540.6 1029.2 L2555.6 1026.4 L2570.5 1027.1 L2585.5 1024.6 L2600.4 1031.9 L2615.4 1031.3 L2630.4 1025.2 L2645.3 1019.0 L2660.3 1020.8 L2675.2 1018.2 L2690.2 1018.2 L2705.1 1012.2 L2720.1 1007.9 L2735.1 1004.5 L2750.0 1001.8" stroke="#ff8450"/></g>
<rect x="24" y="997" width="8" height="30" fill="#7a859e"/>
<rect x="2754" y="997" width="8" height="30" fill="#7a859e"/>
</svg>
<div class="tip"><div class="hd">02:00, May 14, 2020</div><div class="row" style="top:76.0px"><i style="background:#26c953"></i><b>$9,641.11</b> <span>Price</span></div><div class="row" style="top:110.0px"><i style="background:#ac948c"></i><b>14.36M</b> <span>[0 - 0.001) coins</span></div><div class="row" style="top:144.0px"><i style="background:#f47bf7"></i><b>7.68M</b> <span>[0.001 - 0.01) coins</span></div><div class="row" style="top:178.0px"><i style="background:#ff5b5b"></i><b>5.3M</b> <span>[0.01 - 0.1) coins</span></div><div class="row" style="top:212.0px"><i style="background:#ffc53d"></i><b>2.21M</b> <span>[0.1 - 1) coins</span></div><div class="row" style="top:246.0px"><i style="background:#6f4e42"></i><b>659.56K</b> <span>[1 - 10) coins</span></div><div class="row" style="top:280.0px"><i style="background:#5275ff"></i><b>139.98K</b> <span>[10 - 100) coins</span></div><div class="row" style="top:314.0px"><i style="background:#ff8450"></i><b>2047</b> <span>[1,000 - 10,000) coins</span></div></div>
</body></html>
